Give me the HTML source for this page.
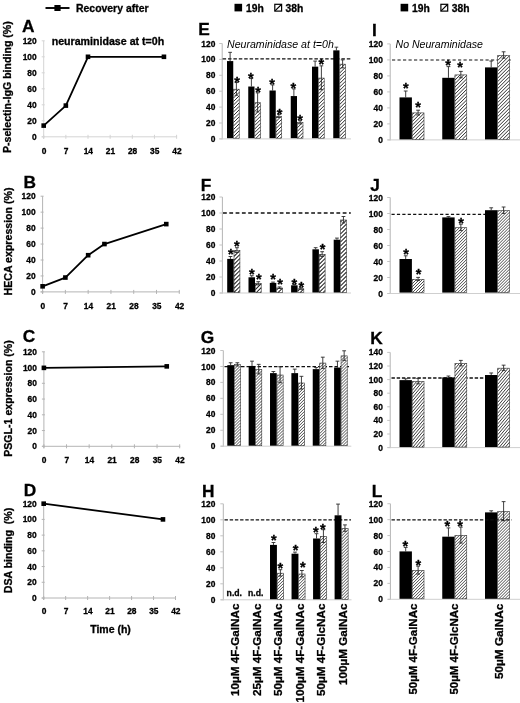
<!DOCTYPE html>
<html><head><meta charset="utf-8"><title>Figure</title>
<style>html,body{margin:0;padding:0;background:#fff;}body{width:520px;height:703px;overflow:hidden;}svg{display:block;filter:blur(0.35px);font-family:"Liberation Sans",sans-serif;}</style>
</head><body>
<svg width="520" height="703" viewBox="0 0 520 703">
<defs>
</defs>
<rect width="520" height="703" fill="#fff"/>
<line x1="45.50" y1="8.00" x2="69.50" y2="8.00" stroke="#000" stroke-width="1.9"/>
<rect x="54.40" y="5.00" width="6.20" height="6.00" fill="#000" stroke="none" stroke-width="0"/>
<text x="76.00" y="11.60" font-size="10.5" font-weight="bold" font-style="normal" text-anchor="start" fill="#000" stroke="#000" stroke-width="0.3" textLength="72.50" lengthAdjust="spacingAndGlyphs">Recovery after</text>
<rect x="234.50" y="3.80" width="7.60" height="7.60" fill="#000" stroke="none" stroke-width="0"/>
<text x="246.00" y="11.90" font-size="10.3" font-weight="bold" font-style="normal" text-anchor="start" fill="#000" stroke="#000" stroke-width="0.3">19h</text>
<rect x="274.80" y="4.30" width="6.80" height="6.80" fill="#fff" stroke="#000" stroke-width="1.2"/>
<line x1="275.00" y1="10.90" x2="281.40" y2="4.50" stroke="#000" stroke-width="1.1"/>
<text x="285.60" y="12.20" font-size="10.3" font-weight="bold" font-style="normal" text-anchor="start" fill="#000" stroke="#000" stroke-width="0.3">38h</text>
<rect x="400.60" y="3.80" width="7.60" height="7.60" fill="#000" stroke="none" stroke-width="0"/>
<text x="412.10" y="11.90" font-size="10.3" font-weight="bold" font-style="normal" text-anchor="start" fill="#000" stroke="#000" stroke-width="0.3">19h</text>
<rect x="440.90" y="4.30" width="6.80" height="6.80" fill="#fff" stroke="#000" stroke-width="1.2"/>
<line x1="441.10" y1="10.90" x2="447.50" y2="4.50" stroke="#000" stroke-width="1.1"/>
<text x="451.70" y="12.20" font-size="10.3" font-weight="bold" font-style="normal" text-anchor="start" fill="#000" stroke="#000" stroke-width="0.3">38h</text>
<line x1="43.70" y1="40.80" x2="43.70" y2="138.80" stroke="#d4d4d4" stroke-width="1"/>
<line x1="41.70" y1="136.80" x2="177.10" y2="136.80" stroke="#d4d4d4" stroke-width="1"/>
<line x1="43.70" y1="134.80" x2="43.70" y2="138.80" stroke="#d4d4d4" stroke-width="1"/>
<text x="44.00" y="153.85" font-size="8.4" font-weight="bold" font-style="normal" text-anchor="middle" fill="#000" stroke="#000" stroke-width="0.3">0</text>
<line x1="65.85" y1="134.80" x2="65.85" y2="138.80" stroke="#d4d4d4" stroke-width="1"/>
<text x="66.15" y="153.85" font-size="8.4" font-weight="bold" font-style="normal" text-anchor="middle" fill="#000" stroke="#000" stroke-width="0.3">7</text>
<line x1="88.00" y1="134.80" x2="88.00" y2="138.80" stroke="#d4d4d4" stroke-width="1"/>
<text x="88.30" y="153.85" font-size="8.4" font-weight="bold" font-style="normal" text-anchor="middle" fill="#000" stroke="#000" stroke-width="0.3">14</text>
<line x1="110.15" y1="134.80" x2="110.15" y2="138.80" stroke="#d4d4d4" stroke-width="1"/>
<text x="110.45" y="153.85" font-size="8.4" font-weight="bold" font-style="normal" text-anchor="middle" fill="#000" stroke="#000" stroke-width="0.3">21</text>
<line x1="132.30" y1="134.80" x2="132.30" y2="138.80" stroke="#d4d4d4" stroke-width="1"/>
<text x="132.60" y="153.85" font-size="8.4" font-weight="bold" font-style="normal" text-anchor="middle" fill="#000" stroke="#000" stroke-width="0.3">28</text>
<line x1="154.45" y1="134.80" x2="154.45" y2="138.80" stroke="#d4d4d4" stroke-width="1"/>
<text x="154.75" y="153.85" font-size="8.4" font-weight="bold" font-style="normal" text-anchor="middle" fill="#000" stroke="#000" stroke-width="0.3">35</text>
<line x1="176.60" y1="134.80" x2="176.60" y2="138.80" stroke="#d4d4d4" stroke-width="1"/>
<text x="176.90" y="153.85" font-size="8.4" font-weight="bold" font-style="normal" text-anchor="middle" fill="#000" stroke="#000" stroke-width="0.3">42</text>
<line x1="41.70" y1="136.80" x2="44.70" y2="136.80" stroke="#d4d4d4" stroke-width="1"/>
<line x1="41.70" y1="120.80" x2="44.70" y2="120.80" stroke="#d4d4d4" stroke-width="1"/>
<line x1="41.70" y1="104.80" x2="44.70" y2="104.80" stroke="#d4d4d4" stroke-width="1"/>
<line x1="41.70" y1="88.80" x2="44.70" y2="88.80" stroke="#d4d4d4" stroke-width="1"/>
<line x1="41.70" y1="72.80" x2="44.70" y2="72.80" stroke="#d4d4d4" stroke-width="1"/>
<line x1="41.70" y1="56.80" x2="44.70" y2="56.80" stroke="#d4d4d4" stroke-width="1"/>
<line x1="41.70" y1="40.80" x2="44.70" y2="40.80" stroke="#d4d4d4" stroke-width="1"/>
<text x="36.70" y="139.85" font-size="8.4" font-weight="bold" font-style="normal" text-anchor="end" fill="#000" stroke="#000" stroke-width="0.3">0</text>
<text x="36.70" y="123.85" font-size="8.4" font-weight="bold" font-style="normal" text-anchor="end" fill="#000" stroke="#000" stroke-width="0.3">20</text>
<text x="36.70" y="107.85" font-size="8.4" font-weight="bold" font-style="normal" text-anchor="end" fill="#000" stroke="#000" stroke-width="0.3">40</text>
<text x="36.70" y="91.85" font-size="8.4" font-weight="bold" font-style="normal" text-anchor="end" fill="#000" stroke="#000" stroke-width="0.3">60</text>
<text x="36.70" y="75.85" font-size="8.4" font-weight="bold" font-style="normal" text-anchor="end" fill="#000" stroke="#000" stroke-width="0.3">80</text>
<text x="36.70" y="59.85" font-size="8.4" font-weight="bold" font-style="normal" text-anchor="end" fill="#000" stroke="#000" stroke-width="0.3">100</text>
<text x="36.70" y="43.85" font-size="8.4" font-weight="bold" font-style="normal" text-anchor="end" fill="#000" stroke="#000" stroke-width="0.3">120</text>
<polyline points="43.70,125.60 65.85,105.60 88.00,56.80 163.94,56.80" fill="none" stroke="#000" stroke-width="1.8" stroke-linejoin="round"/>
<rect x="41.40" y="123.30" width="4.60" height="4.60" fill="#000" stroke="none" stroke-width="0"/>
<rect x="63.55" y="103.30" width="4.60" height="4.60" fill="#000" stroke="none" stroke-width="0"/>
<rect x="85.70" y="54.50" width="4.60" height="4.60" fill="#000" stroke="none" stroke-width="0"/>
<rect x="161.64" y="54.50" width="4.60" height="4.60" fill="#000" stroke="none" stroke-width="0"/>
<text x="22.00" y="32.20" font-size="17.3" font-weight="bold" font-style="normal" text-anchor="start" fill="#000" stroke="#000" stroke-width="0.3">A</text>
<text x="11.20" y="87.10" font-size="10.6" font-weight="bold" font-style="normal" text-anchor="middle" fill="#000" stroke="#000" stroke-width="0.3" transform="rotate(-90 11.20 87.10)">P-selectin-IgG binding (%)</text>
<text x="51.70" y="44.90" font-size="10.5" font-weight="bold" font-style="normal" text-anchor="start" fill="#000" stroke="#000" stroke-width="0.3" textLength="112.50" lengthAdjust="spacingAndGlyphs">neuraminidase at t=0h</text>
<line x1="42.60" y1="196.20" x2="42.60" y2="293.90" stroke="#b4b4b4" stroke-width="1"/>
<line x1="40.60" y1="291.90" x2="179.78" y2="291.90" stroke="#b4b4b4" stroke-width="1"/>
<line x1="42.60" y1="289.90" x2="42.60" y2="293.90" stroke="#b4b4b4" stroke-width="1"/>
<text x="42.90" y="308.95" font-size="8.4" font-weight="bold" font-style="normal" text-anchor="middle" fill="#000" stroke="#000" stroke-width="0.3">0</text>
<line x1="65.38" y1="289.90" x2="65.38" y2="293.90" stroke="#b4b4b4" stroke-width="1"/>
<text x="65.68" y="308.95" font-size="8.4" font-weight="bold" font-style="normal" text-anchor="middle" fill="#000" stroke="#000" stroke-width="0.3">7</text>
<line x1="88.16" y1="289.90" x2="88.16" y2="293.90" stroke="#b4b4b4" stroke-width="1"/>
<text x="88.46" y="308.95" font-size="8.4" font-weight="bold" font-style="normal" text-anchor="middle" fill="#000" stroke="#000" stroke-width="0.3">14</text>
<line x1="110.94" y1="289.90" x2="110.94" y2="293.90" stroke="#b4b4b4" stroke-width="1"/>
<text x="111.24" y="308.95" font-size="8.4" font-weight="bold" font-style="normal" text-anchor="middle" fill="#000" stroke="#000" stroke-width="0.3">21</text>
<line x1="133.72" y1="289.90" x2="133.72" y2="293.90" stroke="#b4b4b4" stroke-width="1"/>
<text x="134.02" y="308.95" font-size="8.4" font-weight="bold" font-style="normal" text-anchor="middle" fill="#000" stroke="#000" stroke-width="0.3">28</text>
<line x1="156.50" y1="289.90" x2="156.50" y2="293.90" stroke="#b4b4b4" stroke-width="1"/>
<text x="156.80" y="308.95" font-size="8.4" font-weight="bold" font-style="normal" text-anchor="middle" fill="#000" stroke="#000" stroke-width="0.3">35</text>
<line x1="179.28" y1="289.90" x2="179.28" y2="293.90" stroke="#b4b4b4" stroke-width="1"/>
<text x="179.58" y="308.95" font-size="8.4" font-weight="bold" font-style="normal" text-anchor="middle" fill="#000" stroke="#000" stroke-width="0.3">42</text>
<line x1="40.60" y1="291.90" x2="43.60" y2="291.90" stroke="#b4b4b4" stroke-width="1"/>
<line x1="40.60" y1="275.95" x2="43.60" y2="275.95" stroke="#b4b4b4" stroke-width="1"/>
<line x1="40.60" y1="260.00" x2="43.60" y2="260.00" stroke="#b4b4b4" stroke-width="1"/>
<line x1="40.60" y1="244.05" x2="43.60" y2="244.05" stroke="#b4b4b4" stroke-width="1"/>
<line x1="40.60" y1="228.10" x2="43.60" y2="228.10" stroke="#b4b4b4" stroke-width="1"/>
<line x1="40.60" y1="212.15" x2="43.60" y2="212.15" stroke="#b4b4b4" stroke-width="1"/>
<line x1="40.60" y1="196.20" x2="43.60" y2="196.20" stroke="#b4b4b4" stroke-width="1"/>
<text x="35.60" y="294.95" font-size="8.4" font-weight="bold" font-style="normal" text-anchor="end" fill="#000" stroke="#000" stroke-width="0.3">0</text>
<text x="35.60" y="279.00" font-size="8.4" font-weight="bold" font-style="normal" text-anchor="end" fill="#000" stroke="#000" stroke-width="0.3">20</text>
<text x="35.60" y="263.05" font-size="8.4" font-weight="bold" font-style="normal" text-anchor="end" fill="#000" stroke="#000" stroke-width="0.3">40</text>
<text x="35.60" y="247.10" font-size="8.4" font-weight="bold" font-style="normal" text-anchor="end" fill="#000" stroke="#000" stroke-width="0.3">60</text>
<text x="35.60" y="231.15" font-size="8.4" font-weight="bold" font-style="normal" text-anchor="end" fill="#000" stroke="#000" stroke-width="0.3">80</text>
<text x="35.60" y="215.20" font-size="8.4" font-weight="bold" font-style="normal" text-anchor="end" fill="#000" stroke="#000" stroke-width="0.3">100</text>
<text x="35.60" y="199.25" font-size="8.4" font-weight="bold" font-style="normal" text-anchor="end" fill="#000" stroke="#000" stroke-width="0.3">120</text>
<polyline points="42.60,286.32 65.38,277.54 88.16,255.21 104.43,244.05 166.26,224.11" fill="none" stroke="#000" stroke-width="1.8" stroke-linejoin="round"/>
<rect x="40.30" y="284.02" width="4.60" height="4.60" fill="#000" stroke="none" stroke-width="0"/>
<rect x="63.08" y="275.24" width="4.60" height="4.60" fill="#000" stroke="none" stroke-width="0"/>
<rect x="85.86" y="252.91" width="4.60" height="4.60" fill="#000" stroke="none" stroke-width="0"/>
<rect x="102.13" y="241.75" width="4.60" height="4.60" fill="#000" stroke="none" stroke-width="0"/>
<rect x="163.96" y="221.81" width="4.60" height="4.60" fill="#000" stroke="none" stroke-width="0"/>
<text x="23.40" y="187.60" font-size="17.3" font-weight="bold" font-style="normal" text-anchor="start" fill="#000" stroke="#000" stroke-width="0.3">B</text>
<text x="11.60" y="241.50" font-size="10.6" font-weight="bold" font-style="normal" text-anchor="middle" fill="#000" stroke="#000" stroke-width="0.3" transform="rotate(-90 11.60 241.50)">HECA expression (%)</text>
<line x1="43.90" y1="351.80" x2="43.90" y2="448.30" stroke="#b4b4b4" stroke-width="1"/>
<line x1="41.90" y1="446.30" x2="180.18" y2="446.30" stroke="#b4b4b4" stroke-width="1"/>
<line x1="43.90" y1="444.30" x2="43.90" y2="448.30" stroke="#b4b4b4" stroke-width="1"/>
<text x="44.20" y="462.85" font-size="8.4" font-weight="bold" font-style="normal" text-anchor="middle" fill="#000" stroke="#000" stroke-width="0.3">0</text>
<line x1="66.53" y1="444.30" x2="66.53" y2="448.30" stroke="#b4b4b4" stroke-width="1"/>
<text x="66.83" y="462.85" font-size="8.4" font-weight="bold" font-style="normal" text-anchor="middle" fill="#000" stroke="#000" stroke-width="0.3">7</text>
<line x1="89.16" y1="444.30" x2="89.16" y2="448.30" stroke="#b4b4b4" stroke-width="1"/>
<text x="89.46" y="462.85" font-size="8.4" font-weight="bold" font-style="normal" text-anchor="middle" fill="#000" stroke="#000" stroke-width="0.3">14</text>
<line x1="111.79" y1="444.30" x2="111.79" y2="448.30" stroke="#b4b4b4" stroke-width="1"/>
<text x="112.09" y="462.85" font-size="8.4" font-weight="bold" font-style="normal" text-anchor="middle" fill="#000" stroke="#000" stroke-width="0.3">21</text>
<line x1="134.42" y1="444.30" x2="134.42" y2="448.30" stroke="#b4b4b4" stroke-width="1"/>
<text x="134.72" y="462.85" font-size="8.4" font-weight="bold" font-style="normal" text-anchor="middle" fill="#000" stroke="#000" stroke-width="0.3">28</text>
<line x1="157.05" y1="444.30" x2="157.05" y2="448.30" stroke="#b4b4b4" stroke-width="1"/>
<text x="157.35" y="462.85" font-size="8.4" font-weight="bold" font-style="normal" text-anchor="middle" fill="#000" stroke="#000" stroke-width="0.3">35</text>
<line x1="179.68" y1="444.30" x2="179.68" y2="448.30" stroke="#b4b4b4" stroke-width="1"/>
<text x="179.98" y="462.85" font-size="8.4" font-weight="bold" font-style="normal" text-anchor="middle" fill="#000" stroke="#000" stroke-width="0.3">42</text>
<line x1="41.90" y1="446.30" x2="44.90" y2="446.30" stroke="#b4b4b4" stroke-width="1"/>
<line x1="41.90" y1="430.55" x2="44.90" y2="430.55" stroke="#b4b4b4" stroke-width="1"/>
<line x1="41.90" y1="414.80" x2="44.90" y2="414.80" stroke="#b4b4b4" stroke-width="1"/>
<line x1="41.90" y1="399.05" x2="44.90" y2="399.05" stroke="#b4b4b4" stroke-width="1"/>
<line x1="41.90" y1="383.30" x2="44.90" y2="383.30" stroke="#b4b4b4" stroke-width="1"/>
<line x1="41.90" y1="367.55" x2="44.90" y2="367.55" stroke="#b4b4b4" stroke-width="1"/>
<line x1="41.90" y1="351.80" x2="44.90" y2="351.80" stroke="#b4b4b4" stroke-width="1"/>
<text x="36.90" y="449.35" font-size="8.4" font-weight="bold" font-style="normal" text-anchor="end" fill="#000" stroke="#000" stroke-width="0.3">0</text>
<text x="36.90" y="433.60" font-size="8.4" font-weight="bold" font-style="normal" text-anchor="end" fill="#000" stroke="#000" stroke-width="0.3">20</text>
<text x="36.90" y="417.85" font-size="8.4" font-weight="bold" font-style="normal" text-anchor="end" fill="#000" stroke="#000" stroke-width="0.3">40</text>
<text x="36.90" y="402.10" font-size="8.4" font-weight="bold" font-style="normal" text-anchor="end" fill="#000" stroke="#000" stroke-width="0.3">60</text>
<text x="36.90" y="386.35" font-size="8.4" font-weight="bold" font-style="normal" text-anchor="end" fill="#000" stroke="#000" stroke-width="0.3">80</text>
<text x="36.90" y="370.60" font-size="8.4" font-weight="bold" font-style="normal" text-anchor="end" fill="#000" stroke="#000" stroke-width="0.3">100</text>
<text x="36.90" y="354.85" font-size="8.4" font-weight="bold" font-style="normal" text-anchor="end" fill="#000" stroke="#000" stroke-width="0.3">120</text>
<polyline points="43.90,367.87 166.75,366.37" fill="none" stroke="#000" stroke-width="1.8" stroke-linejoin="round"/>
<rect x="41.60" y="365.56" width="4.60" height="4.60" fill="#000" stroke="none" stroke-width="0"/>
<rect x="164.45" y="364.07" width="4.60" height="4.60" fill="#000" stroke="none" stroke-width="0"/>
<text x="22.80" y="342.30" font-size="17.3" font-weight="bold" font-style="normal" text-anchor="start" fill="#000" stroke="#000" stroke-width="0.3">C</text>
<text x="12.40" y="398.50" font-size="10.6" font-weight="bold" font-style="normal" text-anchor="middle" fill="#000" stroke="#000" stroke-width="0.3" transform="rotate(-90 12.40 398.50)">PSGL-1 expression (%)</text>
<line x1="43.70" y1="503.68" x2="43.70" y2="600.00" stroke="#b4b4b4" stroke-width="1"/>
<line x1="41.70" y1="598.00" x2="176.02" y2="598.00" stroke="#b4b4b4" stroke-width="1"/>
<line x1="43.70" y1="596.00" x2="43.70" y2="600.00" stroke="#b4b4b4" stroke-width="1"/>
<text x="44.00" y="614.45" font-size="8.4" font-weight="bold" font-style="normal" text-anchor="middle" fill="#000" stroke="#000" stroke-width="0.3">0</text>
<line x1="65.67" y1="596.00" x2="65.67" y2="600.00" stroke="#b4b4b4" stroke-width="1"/>
<text x="65.97" y="614.45" font-size="8.4" font-weight="bold" font-style="normal" text-anchor="middle" fill="#000" stroke="#000" stroke-width="0.3">7</text>
<line x1="87.64" y1="596.00" x2="87.64" y2="600.00" stroke="#b4b4b4" stroke-width="1"/>
<text x="87.94" y="614.45" font-size="8.4" font-weight="bold" font-style="normal" text-anchor="middle" fill="#000" stroke="#000" stroke-width="0.3">14</text>
<line x1="109.61" y1="596.00" x2="109.61" y2="600.00" stroke="#b4b4b4" stroke-width="1"/>
<text x="109.91" y="614.45" font-size="8.4" font-weight="bold" font-style="normal" text-anchor="middle" fill="#000" stroke="#000" stroke-width="0.3">21</text>
<line x1="131.58" y1="596.00" x2="131.58" y2="600.00" stroke="#b4b4b4" stroke-width="1"/>
<text x="131.88" y="614.45" font-size="8.4" font-weight="bold" font-style="normal" text-anchor="middle" fill="#000" stroke="#000" stroke-width="0.3">28</text>
<line x1="153.55" y1="596.00" x2="153.55" y2="600.00" stroke="#b4b4b4" stroke-width="1"/>
<text x="153.85" y="614.45" font-size="8.4" font-weight="bold" font-style="normal" text-anchor="middle" fill="#000" stroke="#000" stroke-width="0.3">35</text>
<line x1="175.52" y1="596.00" x2="175.52" y2="600.00" stroke="#b4b4b4" stroke-width="1"/>
<text x="175.82" y="614.45" font-size="8.4" font-weight="bold" font-style="normal" text-anchor="middle" fill="#000" stroke="#000" stroke-width="0.3">42</text>
<line x1="41.70" y1="598.00" x2="44.70" y2="598.00" stroke="#b4b4b4" stroke-width="1"/>
<line x1="41.70" y1="582.28" x2="44.70" y2="582.28" stroke="#b4b4b4" stroke-width="1"/>
<line x1="41.70" y1="566.56" x2="44.70" y2="566.56" stroke="#b4b4b4" stroke-width="1"/>
<line x1="41.70" y1="550.84" x2="44.70" y2="550.84" stroke="#b4b4b4" stroke-width="1"/>
<line x1="41.70" y1="535.12" x2="44.70" y2="535.12" stroke="#b4b4b4" stroke-width="1"/>
<line x1="41.70" y1="519.40" x2="44.70" y2="519.40" stroke="#b4b4b4" stroke-width="1"/>
<line x1="41.70" y1="503.68" x2="44.70" y2="503.68" stroke="#b4b4b4" stroke-width="1"/>
<text x="36.70" y="601.05" font-size="8.4" font-weight="bold" font-style="normal" text-anchor="end" fill="#000" stroke="#000" stroke-width="0.3">0</text>
<text x="36.70" y="585.33" font-size="8.4" font-weight="bold" font-style="normal" text-anchor="end" fill="#000" stroke="#000" stroke-width="0.3">20</text>
<text x="36.70" y="569.61" font-size="8.4" font-weight="bold" font-style="normal" text-anchor="end" fill="#000" stroke="#000" stroke-width="0.3">40</text>
<text x="36.70" y="553.89" font-size="8.4" font-weight="bold" font-style="normal" text-anchor="end" fill="#000" stroke="#000" stroke-width="0.3">60</text>
<text x="36.70" y="538.17" font-size="8.4" font-weight="bold" font-style="normal" text-anchor="end" fill="#000" stroke="#000" stroke-width="0.3">80</text>
<text x="36.70" y="522.45" font-size="8.4" font-weight="bold" font-style="normal" text-anchor="end" fill="#000" stroke="#000" stroke-width="0.3">100</text>
<text x="36.70" y="506.73" font-size="8.4" font-weight="bold" font-style="normal" text-anchor="end" fill="#000" stroke="#000" stroke-width="0.3">120</text>
<polyline points="43.70,503.68 162.97,519.40" fill="none" stroke="#000" stroke-width="1.8" stroke-linejoin="round"/>
<rect x="41.40" y="501.38" width="4.60" height="4.60" fill="#000" stroke="none" stroke-width="0"/>
<rect x="160.67" y="517.10" width="4.60" height="4.60" fill="#000" stroke="none" stroke-width="0"/>
<text x="23.70" y="496.30" font-size="17.3" font-weight="bold" font-style="normal" text-anchor="start" fill="#000" stroke="#000" stroke-width="0.3">D</text>
<text x="12.00" y="550.50" font-size="10.6" font-weight="bold" font-style="normal" text-anchor="middle" fill="#000" stroke="#000" stroke-width="0.3" transform="rotate(-90 12.00 550.50)">DSA binding&#160;&#160;(%)</text>
<text x="110.50" y="632.60" font-size="10.5" font-weight="bold" font-style="normal" text-anchor="middle" fill="#000" stroke="#000" stroke-width="0.3">Time (h)</text>
<line x1="222.20" y1="43.50" x2="222.20" y2="139.40" stroke="#b4b4b4" stroke-width="1"/>
<line x1="219.70" y1="138.90" x2="351.00" y2="138.90" stroke="#cfcfcf" stroke-width="1"/>
<line x1="219.20" y1="138.90" x2="222.20" y2="138.90" stroke="#c4c4c4" stroke-width="1"/>
<line x1="219.20" y1="123.00" x2="222.20" y2="123.00" stroke="#c4c4c4" stroke-width="1"/>
<line x1="219.20" y1="107.10" x2="222.20" y2="107.10" stroke="#c4c4c4" stroke-width="1"/>
<line x1="219.20" y1="91.20" x2="222.20" y2="91.20" stroke="#c4c4c4" stroke-width="1"/>
<line x1="219.20" y1="75.30" x2="222.20" y2="75.30" stroke="#c4c4c4" stroke-width="1"/>
<line x1="219.20" y1="59.40" x2="222.20" y2="59.40" stroke="#c4c4c4" stroke-width="1"/>
<line x1="219.20" y1="43.50" x2="222.20" y2="43.50" stroke="#c4c4c4" stroke-width="1"/>
<text x="215.30" y="141.95" font-size="8.4" font-weight="bold" font-style="normal" text-anchor="end" fill="#000" stroke="#000" stroke-width="0.3">0</text>
<text x="215.30" y="126.05" font-size="8.4" font-weight="bold" font-style="normal" text-anchor="end" fill="#000" stroke="#000" stroke-width="0.3">20</text>
<text x="215.30" y="110.15" font-size="8.4" font-weight="bold" font-style="normal" text-anchor="end" fill="#000" stroke="#000" stroke-width="0.3">40</text>
<text x="215.30" y="94.25" font-size="8.4" font-weight="bold" font-style="normal" text-anchor="end" fill="#000" stroke="#000" stroke-width="0.3">60</text>
<text x="215.30" y="78.35" font-size="8.4" font-weight="bold" font-style="normal" text-anchor="end" fill="#000" stroke="#000" stroke-width="0.3">80</text>
<text x="215.30" y="62.45" font-size="8.4" font-weight="bold" font-style="normal" text-anchor="end" fill="#000" stroke="#000" stroke-width="0.3">100</text>
<text x="215.30" y="46.55" font-size="8.4" font-weight="bold" font-style="normal" text-anchor="end" fill="#000" stroke="#000" stroke-width="0.3">120</text>
<line x1="222.60" y1="58.90" x2="350.50" y2="58.90" stroke="#111" stroke-width="1.3" stroke-dasharray="3.5 1.9"/>
<line x1="230.12" y1="52.34" x2="230.12" y2="61.08" stroke="#2a2a2a" stroke-width="0.9"/>
<line x1="228.29" y1="52.34" x2="231.96" y2="52.34" stroke="#2a2a2a" stroke-width="0.9"/>
<rect x="227.00" y="61.08" width="6.25" height="77.11" fill="#000" stroke="none" stroke-width="0"/>
<rect x="233.55" y="89.21" width="5.65" height="48.99" fill="#fff"/>
<path d="M233.55 90.96L235.30 89.21M233.55 94.46L238.80 89.21M233.55 97.96L239.20 92.31M233.55 101.46L239.20 95.81M233.55 104.96L239.20 99.31M233.55 108.46L239.20 102.81M233.55 111.96L239.20 106.31M233.55 115.46L239.20 109.81M233.55 118.96L239.20 113.31M233.55 122.46L239.20 116.81M233.55 125.96L239.20 120.31M233.55 129.46L239.20 123.81M233.55 132.96L239.20 127.31M233.55 136.46L239.20 130.81M235.31 138.20L239.20 134.31M238.81 138.20L239.20 137.81" stroke="#1a1a1a" stroke-width="0.92" fill="none"/>
<rect x="233.55" y="89.21" width="5.65" height="48.99" fill="none" stroke="#333" stroke-width="0.6"/>
<line x1="236.38" y1="82.55" x2="236.38" y2="95.27" stroke="#2a2a2a" stroke-width="0.9"/>
<line x1="234.54" y1="82.55" x2="238.21" y2="82.55" stroke="#2a2a2a" stroke-width="0.9"/>
<line x1="234.54" y1="95.27" x2="238.21" y2="95.27" stroke="#2a2a2a" stroke-width="0.9"/>
<line x1="251.38" y1="78.57" x2="251.38" y2="86.52" stroke="#2a2a2a" stroke-width="0.9"/>
<line x1="249.54" y1="78.57" x2="253.21" y2="78.57" stroke="#2a2a2a" stroke-width="0.9"/>
<rect x="248.25" y="86.52" width="6.25" height="51.68" fill="#000" stroke="none" stroke-width="0"/>
<rect x="254.80" y="102.72" width="5.65" height="35.48" fill="#fff"/>
<path d="M254.80 104.47L256.55 102.72M254.80 107.97L260.05 102.72M254.80 111.47L260.45 105.82M254.80 114.97L260.45 109.32M254.80 118.47L260.45 112.82M254.80 121.97L260.45 116.32M254.80 125.47L260.45 119.82M254.80 128.97L260.45 123.32M254.80 132.47L260.45 126.82M254.80 135.97L260.45 130.32M256.07 138.20L260.45 133.82M259.57 138.20L260.45 137.32" stroke="#1a1a1a" stroke-width="0.92" fill="none"/>
<rect x="254.80" y="102.72" width="5.65" height="35.48" fill="none" stroke="#333" stroke-width="0.6"/>
<line x1="257.62" y1="92.88" x2="257.62" y2="111.96" stroke="#2a2a2a" stroke-width="0.9"/>
<line x1="255.79" y1="92.88" x2="259.46" y2="92.88" stroke="#2a2a2a" stroke-width="0.9"/>
<line x1="255.79" y1="111.96" x2="259.46" y2="111.96" stroke="#2a2a2a" stroke-width="0.9"/>
<line x1="272.62" y1="84.93" x2="272.62" y2="90.50" stroke="#2a2a2a" stroke-width="0.9"/>
<line x1="270.79" y1="84.93" x2="274.46" y2="84.93" stroke="#2a2a2a" stroke-width="0.9"/>
<rect x="269.50" y="90.50" width="6.25" height="47.70" fill="#000" stroke="none" stroke-width="0"/>
<rect x="276.05" y="116.24" width="5.65" height="21.96" fill="#fff"/>
<path d="M276.05 117.99L277.80 116.24M276.05 121.49L281.30 116.24M276.05 124.99L281.70 119.34M276.05 128.49L281.70 122.84M276.05 131.99L281.70 126.34M276.05 135.49L281.70 129.84M276.84 138.20L281.70 133.34M280.34 138.20L281.70 136.84" stroke="#1a1a1a" stroke-width="0.92" fill="none"/>
<rect x="276.05" y="116.24" width="5.65" height="21.96" fill="none" stroke="#333" stroke-width="0.6"/>
<line x1="278.88" y1="114.35" x2="278.88" y2="117.53" stroke="#2a2a2a" stroke-width="0.9"/>
<line x1="277.04" y1="114.35" x2="280.71" y2="114.35" stroke="#2a2a2a" stroke-width="0.9"/>
<line x1="277.04" y1="117.53" x2="280.71" y2="117.53" stroke="#2a2a2a" stroke-width="0.9"/>
<line x1="293.88" y1="88.91" x2="293.88" y2="96.06" stroke="#2a2a2a" stroke-width="0.9"/>
<line x1="292.04" y1="88.91" x2="295.71" y2="88.91" stroke="#2a2a2a" stroke-width="0.9"/>
<rect x="290.75" y="96.06" width="6.25" height="42.13" fill="#000" stroke="none" stroke-width="0"/>
<rect x="297.30" y="122.60" width="5.65" height="15.60" fill="#fff"/>
<path d="M297.30 124.35L299.05 122.60M297.30 127.85L302.55 122.60M297.30 131.35L302.95 125.70M297.30 134.85L302.95 129.20M297.45 138.20L302.95 132.70M300.95 138.20L302.95 136.20" stroke="#1a1a1a" stroke-width="0.92" fill="none"/>
<rect x="297.30" y="122.60" width="5.65" height="15.60" fill="none" stroke="#333" stroke-width="0.6"/>
<line x1="300.12" y1="120.71" x2="300.12" y2="123.89" stroke="#2a2a2a" stroke-width="0.9"/>
<line x1="298.29" y1="120.71" x2="301.96" y2="120.71" stroke="#2a2a2a" stroke-width="0.9"/>
<line x1="298.29" y1="123.89" x2="301.96" y2="123.89" stroke="#2a2a2a" stroke-width="0.9"/>
<line x1="315.12" y1="61.08" x2="315.12" y2="66.65" stroke="#2a2a2a" stroke-width="0.9"/>
<line x1="313.29" y1="61.08" x2="316.96" y2="61.08" stroke="#2a2a2a" stroke-width="0.9"/>
<rect x="312.00" y="66.65" width="6.25" height="71.55" fill="#000" stroke="none" stroke-width="0"/>
<rect x="318.55" y="78.08" width="5.65" height="60.12" fill="#fff"/>
<path d="M318.55 79.83L320.30 78.08M318.55 83.33L323.80 78.08M318.55 86.83L324.20 81.18M318.55 90.33L324.20 84.68M318.55 93.83L324.20 88.18M318.55 97.33L324.20 91.68M318.55 100.83L324.20 95.18M318.55 104.33L324.20 98.68M318.55 107.83L324.20 102.18M318.55 111.33L324.20 105.68M318.55 114.83L324.20 109.18M318.55 118.33L324.20 112.68M318.55 121.83L324.20 116.18M318.55 125.33L324.20 119.68M318.55 128.83L324.20 123.18M318.55 132.33L324.20 126.68M318.55 135.83L324.20 130.18M319.68 138.20L324.20 133.68M323.18 138.20L324.20 137.18" stroke="#1a1a1a" stroke-width="0.92" fill="none"/>
<rect x="318.55" y="78.08" width="5.65" height="60.12" fill="none" stroke="#333" stroke-width="0.6"/>
<line x1="321.38" y1="65.85" x2="321.38" y2="89.70" stroke="#2a2a2a" stroke-width="0.9"/>
<line x1="319.54" y1="65.85" x2="323.21" y2="65.85" stroke="#2a2a2a" stroke-width="0.9"/>
<line x1="319.54" y1="89.70" x2="323.21" y2="89.70" stroke="#2a2a2a" stroke-width="0.9"/>
<line x1="336.38" y1="47.17" x2="336.38" y2="50.35" stroke="#2a2a2a" stroke-width="0.9"/>
<line x1="334.54" y1="47.17" x2="338.21" y2="47.17" stroke="#2a2a2a" stroke-width="0.9"/>
<rect x="333.25" y="50.35" width="6.25" height="87.85" fill="#000" stroke="none" stroke-width="0"/>
<rect x="339.80" y="64.17" width="5.65" height="74.03" fill="#fff"/>
<path d="M339.80 65.92L341.55 64.17M339.80 69.42L345.05 64.17M339.80 72.92L345.45 67.27M339.80 76.42L345.45 70.77M339.80 79.92L345.45 74.27M339.80 83.42L345.45 77.77M339.80 86.92L345.45 81.27M339.80 90.42L345.45 84.77M339.80 93.92L345.45 88.27M339.80 97.42L345.45 91.77M339.80 100.92L345.45 95.27M339.80 104.42L345.45 98.77M339.80 107.92L345.45 102.27M339.80 111.42L345.45 105.77M339.80 114.92L345.45 109.27M339.80 118.42L345.45 112.77M339.80 121.92L345.45 116.27M339.80 125.42L345.45 119.77M339.80 128.92L345.45 123.27M339.80 132.42L345.45 126.77M339.80 135.92L345.45 130.27M341.02 138.20L345.45 133.77M344.52 138.20L345.45 137.27" stroke="#1a1a1a" stroke-width="0.92" fill="none"/>
<rect x="339.80" y="64.17" width="5.65" height="74.03" fill="none" stroke="#333" stroke-width="0.6"/>
<line x1="342.62" y1="59.89" x2="342.62" y2="67.84" stroke="#2a2a2a" stroke-width="0.9"/>
<line x1="340.79" y1="59.89" x2="344.46" y2="59.89" stroke="#2a2a2a" stroke-width="0.9"/>
<line x1="340.79" y1="67.84" x2="344.46" y2="67.84" stroke="#2a2a2a" stroke-width="0.9"/>
<text x="237.00" y="86.90" font-size="14.5" font-weight="bold" font-style="normal" text-anchor="middle" fill="#000" stroke="#000" stroke-width="0.3">*</text>
<text x="250.75" y="82.90" font-size="14.5" font-weight="bold" font-style="normal" text-anchor="middle" fill="#000" stroke="#000" stroke-width="0.3">*</text>
<text x="258.00" y="96.90" font-size="14.5" font-weight="bold" font-style="normal" text-anchor="middle" fill="#000" stroke="#000" stroke-width="0.3">*</text>
<text x="272.00" y="89.15" font-size="14.5" font-weight="bold" font-style="normal" text-anchor="middle" fill="#000" stroke="#000" stroke-width="0.3">*</text>
<text x="279.50" y="118.65" font-size="14.5" font-weight="bold" font-style="normal" text-anchor="middle" fill="#000" stroke="#000" stroke-width="0.3">*</text>
<text x="293.25" y="92.90" font-size="14.5" font-weight="bold" font-style="normal" text-anchor="middle" fill="#000" stroke="#000" stroke-width="0.3">*</text>
<text x="300.00" y="124.90" font-size="14.5" font-weight="bold" font-style="normal" text-anchor="middle" fill="#000" stroke="#000" stroke-width="0.3">*</text>
<text x="321.25" y="69.15" font-size="14.5" font-weight="bold" font-style="normal" text-anchor="middle" fill="#000" stroke="#000" stroke-width="0.3">*</text>
<text x="198.30" y="34.50" font-size="17.3" font-weight="bold" font-style="normal" text-anchor="start" fill="#000" stroke="#000" stroke-width="0.3">E</text>
<text x="227.00" y="47.60" font-size="10.5" font-weight="normal" font-style="italic" text-anchor="start" fill="#000" textLength="106.80" lengthAdjust="spacingAndGlyphs">Neuraminidase at t=0h</text>
<line x1="222.40" y1="197.00" x2="222.40" y2="293.50" stroke="#b4b4b4" stroke-width="1"/>
<line x1="219.90" y1="293.00" x2="351.00" y2="293.00" stroke="#cfcfcf" stroke-width="1"/>
<line x1="219.40" y1="293.00" x2="222.40" y2="293.00" stroke="#c4c4c4" stroke-width="1"/>
<line x1="219.40" y1="277.00" x2="222.40" y2="277.00" stroke="#c4c4c4" stroke-width="1"/>
<line x1="219.40" y1="261.00" x2="222.40" y2="261.00" stroke="#c4c4c4" stroke-width="1"/>
<line x1="219.40" y1="245.00" x2="222.40" y2="245.00" stroke="#c4c4c4" stroke-width="1"/>
<line x1="219.40" y1="229.00" x2="222.40" y2="229.00" stroke="#c4c4c4" stroke-width="1"/>
<line x1="219.40" y1="213.00" x2="222.40" y2="213.00" stroke="#c4c4c4" stroke-width="1"/>
<line x1="219.40" y1="197.00" x2="222.40" y2="197.00" stroke="#c4c4c4" stroke-width="1"/>
<text x="215.30" y="296.05" font-size="8.4" font-weight="bold" font-style="normal" text-anchor="end" fill="#000" stroke="#000" stroke-width="0.3">0</text>
<text x="215.30" y="280.05" font-size="8.4" font-weight="bold" font-style="normal" text-anchor="end" fill="#000" stroke="#000" stroke-width="0.3">20</text>
<text x="215.30" y="264.05" font-size="8.4" font-weight="bold" font-style="normal" text-anchor="end" fill="#000" stroke="#000" stroke-width="0.3">40</text>
<text x="215.30" y="248.05" font-size="8.4" font-weight="bold" font-style="normal" text-anchor="end" fill="#000" stroke="#000" stroke-width="0.3">60</text>
<text x="215.30" y="232.05" font-size="8.4" font-weight="bold" font-style="normal" text-anchor="end" fill="#000" stroke="#000" stroke-width="0.3">80</text>
<text x="215.30" y="216.05" font-size="8.4" font-weight="bold" font-style="normal" text-anchor="end" fill="#000" stroke="#000" stroke-width="0.3">100</text>
<text x="215.30" y="200.05" font-size="8.4" font-weight="bold" font-style="normal" text-anchor="end" fill="#000" stroke="#000" stroke-width="0.3">120</text>
<line x1="223.00" y1="213.00" x2="350.80" y2="213.00" stroke="#111" stroke-width="1.5" stroke-dasharray="3.8 2.5"/>
<line x1="230.45" y1="256.50" x2="230.45" y2="258.90" stroke="#2a2a2a" stroke-width="0.9"/>
<line x1="228.55" y1="256.50" x2="232.35" y2="256.50" stroke="#2a2a2a" stroke-width="0.9"/>
<rect x="227.20" y="258.90" width="6.50" height="33.60" fill="#000" stroke="none" stroke-width="0"/>
<rect x="234.00" y="250.40" width="5.90" height="42.10" fill="#fff"/>
<path d="M234.00 252.40L236.00 250.40M234.00 256.40L239.90 250.50M234.00 260.40L239.90 254.50M234.00 264.40L239.90 258.50M234.00 268.40L239.90 262.50M234.00 272.40L239.90 266.50M234.00 276.40L239.90 270.50M234.00 280.40L239.90 274.50M234.00 284.40L239.90 278.50M234.00 288.40L239.90 282.50M234.00 292.40L239.90 286.50M237.90 292.50L239.90 290.50" stroke="#1a1a1a" stroke-width="1.05" fill="none"/>
<rect x="234.00" y="250.40" width="5.90" height="42.10" fill="none" stroke="#333" stroke-width="0.6"/>
<line x1="236.95" y1="247.70" x2="236.95" y2="252.50" stroke="#2a2a2a" stroke-width="0.9"/>
<line x1="235.05" y1="247.70" x2="238.85" y2="247.70" stroke="#2a2a2a" stroke-width="0.9"/>
<line x1="235.05" y1="252.50" x2="238.85" y2="252.50" stroke="#2a2a2a" stroke-width="0.9"/>
<line x1="251.75" y1="275.70" x2="251.75" y2="277.30" stroke="#2a2a2a" stroke-width="0.9"/>
<line x1="249.85" y1="275.70" x2="253.65" y2="275.70" stroke="#2a2a2a" stroke-width="0.9"/>
<rect x="248.50" y="277.30" width="6.50" height="15.20" fill="#000" stroke="none" stroke-width="0"/>
<rect x="255.30" y="283.60" width="5.90" height="8.90" fill="#fff"/>
<path d="M255.30 285.60L257.30 283.60M255.30 289.60L261.20 283.70M256.40 292.50L261.20 287.70M260.40 292.50L261.20 291.70" stroke="#1a1a1a" stroke-width="1.05" fill="none"/>
<rect x="255.30" y="283.60" width="5.90" height="8.90" fill="none" stroke="#333" stroke-width="0.6"/>
<line x1="258.25" y1="281.70" x2="258.25" y2="284.90" stroke="#2a2a2a" stroke-width="0.9"/>
<line x1="256.35" y1="281.70" x2="260.15" y2="281.70" stroke="#2a2a2a" stroke-width="0.9"/>
<line x1="256.35" y1="284.90" x2="260.15" y2="284.90" stroke="#2a2a2a" stroke-width="0.9"/>
<line x1="273.05" y1="282.10" x2="273.05" y2="282.90" stroke="#2a2a2a" stroke-width="0.9"/>
<line x1="271.15" y1="282.10" x2="274.95" y2="282.10" stroke="#2a2a2a" stroke-width="0.9"/>
<rect x="269.80" y="282.90" width="6.50" height="9.60" fill="#000" stroke="none" stroke-width="0"/>
<rect x="276.60" y="288.00" width="5.90" height="4.50" fill="#fff"/>
<path d="M276.60 290.00L278.60 288.00M278.10 292.50L282.50 288.10M282.10 292.50L282.50 292.10" stroke="#1a1a1a" stroke-width="1.05" fill="none"/>
<rect x="276.60" y="288.00" width="5.90" height="4.50" fill="none" stroke="#333" stroke-width="0.6"/>
<line x1="279.55" y1="286.90" x2="279.55" y2="288.50" stroke="#2a2a2a" stroke-width="0.9"/>
<line x1="277.65" y1="286.90" x2="281.45" y2="286.90" stroke="#2a2a2a" stroke-width="0.9"/>
<line x1="277.65" y1="288.50" x2="281.45" y2="288.50" stroke="#2a2a2a" stroke-width="0.9"/>
<line x1="294.35" y1="284.50" x2="294.35" y2="285.30" stroke="#2a2a2a" stroke-width="0.9"/>
<line x1="292.45" y1="284.50" x2="296.25" y2="284.50" stroke="#2a2a2a" stroke-width="0.9"/>
<rect x="291.10" y="285.30" width="6.50" height="7.20" fill="#000" stroke="none" stroke-width="0"/>
<rect x="297.90" y="288.80" width="5.90" height="3.70" fill="#fff"/>
<path d="M297.90 290.80L299.90 288.80M300.20 292.50L303.80 288.90" stroke="#1a1a1a" stroke-width="1.05" fill="none"/>
<rect x="297.90" y="288.80" width="5.90" height="3.70" fill="none" stroke="#333" stroke-width="0.6"/>
<line x1="300.85" y1="287.70" x2="300.85" y2="289.30" stroke="#2a2a2a" stroke-width="0.9"/>
<line x1="298.95" y1="287.70" x2="302.75" y2="287.70" stroke="#2a2a2a" stroke-width="0.9"/>
<line x1="298.95" y1="289.30" x2="302.75" y2="289.30" stroke="#2a2a2a" stroke-width="0.9"/>
<line x1="315.65" y1="247.70" x2="315.65" y2="249.30" stroke="#2a2a2a" stroke-width="0.9"/>
<line x1="313.75" y1="247.70" x2="317.55" y2="247.70" stroke="#2a2a2a" stroke-width="0.9"/>
<rect x="312.40" y="249.30" width="6.50" height="43.20" fill="#000" stroke="none" stroke-width="0"/>
<rect x="319.20" y="254.40" width="5.90" height="38.10" fill="#fff"/>
<path d="M319.20 256.40L321.20 254.40M319.20 260.40L325.10 254.50M319.20 264.40L325.10 258.50M319.20 268.40L325.10 262.50M319.20 272.40L325.10 266.50M319.20 276.40L325.10 270.50M319.20 280.40L325.10 274.50M319.20 284.40L325.10 278.50M319.20 288.40L325.10 282.50M319.20 292.40L325.10 286.50M323.10 292.50L325.10 290.50" stroke="#1a1a1a" stroke-width="1.05" fill="none"/>
<rect x="319.20" y="254.40" width="5.90" height="38.10" fill="none" stroke="#333" stroke-width="0.6"/>
<line x1="322.15" y1="251.70" x2="322.15" y2="256.50" stroke="#2a2a2a" stroke-width="0.9"/>
<line x1="320.25" y1="251.70" x2="324.05" y2="251.70" stroke="#2a2a2a" stroke-width="0.9"/>
<line x1="320.25" y1="256.50" x2="324.05" y2="256.50" stroke="#2a2a2a" stroke-width="0.9"/>
<line x1="336.95" y1="238.10" x2="336.95" y2="239.70" stroke="#2a2a2a" stroke-width="0.9"/>
<line x1="335.05" y1="238.10" x2="338.85" y2="238.10" stroke="#2a2a2a" stroke-width="0.9"/>
<rect x="333.70" y="239.70" width="6.50" height="52.80" fill="#000" stroke="none" stroke-width="0"/>
<rect x="340.50" y="220.00" width="5.90" height="72.50" fill="#fff"/>
<path d="M340.50 222.00L342.50 220.00M340.50 226.00L346.40 220.10M340.50 230.00L346.40 224.10M340.50 234.00L346.40 228.10M340.50 238.00L346.40 232.10M340.50 242.00L346.40 236.10M340.50 246.00L346.40 240.10M340.50 250.00L346.40 244.10M340.50 254.00L346.40 248.10M340.50 258.00L346.40 252.10M340.50 262.00L346.40 256.10M340.50 266.00L346.40 260.10M340.50 270.00L346.40 264.10M340.50 274.00L346.40 268.10M340.50 278.00L346.40 272.10M340.50 282.00L346.40 276.10M340.50 286.00L346.40 280.10M340.50 290.00L346.40 284.10M342.00 292.50L346.40 288.10M346.00 292.50L346.40 292.10" stroke="#1a1a1a" stroke-width="1.05" fill="none"/>
<rect x="340.50" y="220.00" width="5.90" height="72.50" fill="none" stroke="#333" stroke-width="0.6"/>
<line x1="343.45" y1="216.50" x2="343.45" y2="222.90" stroke="#2a2a2a" stroke-width="0.9"/>
<line x1="341.55" y1="216.50" x2="345.35" y2="216.50" stroke="#2a2a2a" stroke-width="0.9"/>
<line x1="341.55" y1="222.90" x2="345.35" y2="222.90" stroke="#2a2a2a" stroke-width="0.9"/>
<text x="230.80" y="258.90" font-size="14.5" font-weight="bold" font-style="normal" text-anchor="middle" fill="#000" stroke="#000" stroke-width="0.3">*</text>
<text x="236.90" y="251.10" font-size="14.5" font-weight="bold" font-style="normal" text-anchor="middle" fill="#000" stroke="#000" stroke-width="0.3">*</text>
<text x="251.90" y="278.80" font-size="14.5" font-weight="bold" font-style="normal" text-anchor="middle" fill="#000" stroke="#000" stroke-width="0.3">*</text>
<text x="258.80" y="284.20" font-size="14.5" font-weight="bold" font-style="normal" text-anchor="middle" fill="#000" stroke="#000" stroke-width="0.3">*</text>
<text x="273.00" y="284.15" font-size="14.5" font-weight="bold" font-style="normal" text-anchor="middle" fill="#000" stroke="#000" stroke-width="0.3">*</text>
<text x="280.00" y="289.40" font-size="14.5" font-weight="bold" font-style="normal" text-anchor="middle" fill="#000" stroke="#000" stroke-width="0.3">*</text>
<text x="294.25" y="288.65" font-size="14.5" font-weight="bold" font-style="normal" text-anchor="middle" fill="#000" stroke="#000" stroke-width="0.3">*</text>
<text x="301.25" y="291.90" font-size="14.5" font-weight="bold" font-style="normal" text-anchor="middle" fill="#000" stroke="#000" stroke-width="0.3">*</text>
<text x="322.50" y="254.20" font-size="14.5" font-weight="bold" font-style="normal" text-anchor="middle" fill="#000" stroke="#000" stroke-width="0.3">*</text>
<text x="200.70" y="190.70" font-size="17.3" font-weight="bold" font-style="normal" text-anchor="start" fill="#000" stroke="#000" stroke-width="0.3">F</text>
<line x1="223.30" y1="350.50" x2="223.30" y2="446.70" stroke="#b4b4b4" stroke-width="1"/>
<line x1="220.80" y1="446.20" x2="351.30" y2="446.20" stroke="#cfcfcf" stroke-width="1"/>
<line x1="220.30" y1="446.20" x2="223.30" y2="446.20" stroke="#c4c4c4" stroke-width="1"/>
<line x1="220.30" y1="430.25" x2="223.30" y2="430.25" stroke="#c4c4c4" stroke-width="1"/>
<line x1="220.30" y1="414.30" x2="223.30" y2="414.30" stroke="#c4c4c4" stroke-width="1"/>
<line x1="220.30" y1="398.35" x2="223.30" y2="398.35" stroke="#c4c4c4" stroke-width="1"/>
<line x1="220.30" y1="382.40" x2="223.30" y2="382.40" stroke="#c4c4c4" stroke-width="1"/>
<line x1="220.30" y1="366.45" x2="223.30" y2="366.45" stroke="#c4c4c4" stroke-width="1"/>
<line x1="220.30" y1="350.50" x2="223.30" y2="350.50" stroke="#c4c4c4" stroke-width="1"/>
<text x="215.30" y="449.25" font-size="8.4" font-weight="bold" font-style="normal" text-anchor="end" fill="#000" stroke="#000" stroke-width="0.3">0</text>
<text x="215.30" y="433.30" font-size="8.4" font-weight="bold" font-style="normal" text-anchor="end" fill="#000" stroke="#000" stroke-width="0.3">20</text>
<text x="215.30" y="417.35" font-size="8.4" font-weight="bold" font-style="normal" text-anchor="end" fill="#000" stroke="#000" stroke-width="0.3">40</text>
<text x="215.30" y="401.40" font-size="8.4" font-weight="bold" font-style="normal" text-anchor="end" fill="#000" stroke="#000" stroke-width="0.3">60</text>
<text x="215.30" y="385.45" font-size="8.4" font-weight="bold" font-style="normal" text-anchor="end" fill="#000" stroke="#000" stroke-width="0.3">80</text>
<text x="215.30" y="369.50" font-size="8.4" font-weight="bold" font-style="normal" text-anchor="end" fill="#000" stroke="#000" stroke-width="0.3">100</text>
<text x="215.30" y="353.55" font-size="8.4" font-weight="bold" font-style="normal" text-anchor="end" fill="#000" stroke="#000" stroke-width="0.3">120</text>
<line x1="224.50" y1="366.70" x2="350.80" y2="366.70" stroke="#111" stroke-width="1.3" stroke-dasharray="3.5 2.0"/>
<line x1="230.65" y1="362.76" x2="230.65" y2="365.15" stroke="#2a2a2a" stroke-width="0.9"/>
<line x1="228.75" y1="362.76" x2="232.55" y2="362.76" stroke="#2a2a2a" stroke-width="0.9"/>
<rect x="227.30" y="365.15" width="6.70" height="80.55" fill="#000" stroke="none" stroke-width="0"/>
<rect x="234.30" y="364.66" width="6.10" height="81.04" fill="#fff"/>
<path d="M234.30 366.16L235.80 364.66M234.30 369.16L238.80 364.66M234.30 372.16L240.40 366.06M234.30 375.16L240.40 369.06M234.30 378.16L240.40 372.06M234.30 381.16L240.40 375.06M234.30 384.16L240.40 378.06M234.30 387.16L240.40 381.06M234.30 390.16L240.40 384.06M234.30 393.16L240.40 387.06M234.30 396.16L240.40 390.06M234.30 399.16L240.40 393.06M234.30 402.16L240.40 396.06M234.30 405.16L240.40 399.06M234.30 408.16L240.40 402.06M234.30 411.16L240.40 405.06M234.30 414.16L240.40 408.06M234.30 417.16L240.40 411.06M234.30 420.16L240.40 414.06M234.30 423.16L240.40 417.06M234.30 426.16L240.40 420.06M234.30 429.16L240.40 423.06M234.30 432.16L240.40 426.06M234.30 435.16L240.40 429.06M234.30 438.16L240.40 432.06M234.30 441.16L240.40 435.06M234.30 444.16L240.40 438.06M235.75 445.70L240.40 441.06M238.75 445.70L240.40 444.06" stroke="#1a1a1a" stroke-width="0.78" fill="none"/>
<rect x="234.30" y="364.66" width="6.10" height="81.04" fill="none" stroke="#333" stroke-width="0.6"/>
<line x1="237.35" y1="362.76" x2="237.35" y2="365.95" stroke="#2a2a2a" stroke-width="0.9"/>
<line x1="235.45" y1="362.76" x2="239.25" y2="362.76" stroke="#2a2a2a" stroke-width="0.9"/>
<line x1="235.45" y1="365.95" x2="239.25" y2="365.95" stroke="#2a2a2a" stroke-width="0.9"/>
<line x1="252.01" y1="361.16" x2="252.01" y2="365.95" stroke="#2a2a2a" stroke-width="0.9"/>
<line x1="250.11" y1="361.16" x2="253.91" y2="361.16" stroke="#2a2a2a" stroke-width="0.9"/>
<rect x="248.66" y="365.95" width="6.70" height="79.75" fill="#000" stroke="none" stroke-width="0"/>
<rect x="255.66" y="369.44" width="6.10" height="76.26" fill="#fff"/>
<path d="M255.66 370.94L257.16 369.44M255.66 373.94L260.16 369.44M255.66 376.94L261.76 370.84M255.66 379.94L261.76 373.84M255.66 382.94L261.76 376.84M255.66 385.94L261.76 379.84M255.66 388.94L261.76 382.84M255.66 391.94L261.76 385.84M255.66 394.94L261.76 388.84M255.66 397.94L261.76 391.84M255.66 400.94L261.76 394.84M255.66 403.94L261.76 397.84M255.66 406.94L261.76 400.84M255.66 409.94L261.76 403.84M255.66 412.94L261.76 406.84M255.66 415.94L261.76 409.84M255.66 418.94L261.76 412.84M255.66 421.94L261.76 415.84M255.66 424.94L261.76 418.84M255.66 427.94L261.76 421.84M255.66 430.94L261.76 424.84M255.66 433.94L261.76 427.84M255.66 436.94L261.76 430.84M255.66 439.94L261.76 433.84M255.66 442.94L261.76 436.84M255.90 445.70L261.76 439.84M258.90 445.70L261.76 442.84" stroke="#1a1a1a" stroke-width="0.78" fill="none"/>
<rect x="255.66" y="369.44" width="6.10" height="76.26" fill="none" stroke="#333" stroke-width="0.6"/>
<line x1="258.71" y1="364.35" x2="258.71" y2="373.93" stroke="#2a2a2a" stroke-width="0.9"/>
<line x1="256.81" y1="364.35" x2="260.61" y2="364.35" stroke="#2a2a2a" stroke-width="0.9"/>
<line x1="256.81" y1="373.93" x2="260.61" y2="373.93" stroke="#2a2a2a" stroke-width="0.9"/>
<line x1="273.37" y1="371.53" x2="273.37" y2="373.13" stroke="#2a2a2a" stroke-width="0.9"/>
<line x1="271.47" y1="371.53" x2="275.27" y2="371.53" stroke="#2a2a2a" stroke-width="0.9"/>
<rect x="270.02" y="373.13" width="6.70" height="72.57" fill="#000" stroke="none" stroke-width="0"/>
<rect x="277.02" y="375.02" width="6.10" height="70.68" fill="#fff"/>
<path d="M277.02 376.52L278.52 375.02M277.02 379.52L281.52 375.02M277.02 382.52L283.12 376.42M277.02 385.52L283.12 379.42M277.02 388.52L283.12 382.42M277.02 391.52L283.12 385.42M277.02 394.52L283.12 388.42M277.02 397.52L283.12 391.42M277.02 400.52L283.12 394.42M277.02 403.52L283.12 397.42M277.02 406.52L283.12 400.42M277.02 409.52L283.12 403.42M277.02 412.52L283.12 406.42M277.02 415.52L283.12 409.42M277.02 418.52L283.12 412.42M277.02 421.52L283.12 415.42M277.02 424.52L283.12 418.42M277.02 427.52L283.12 421.42M277.02 430.52L283.12 424.42M277.02 433.52L283.12 427.42M277.02 436.52L283.12 430.42M277.02 439.52L283.12 433.42M277.02 442.52L283.12 436.42M277.02 445.52L283.12 439.42M279.84 445.70L283.12 442.42M282.84 445.70L283.12 445.42" stroke="#1a1a1a" stroke-width="0.78" fill="none"/>
<rect x="277.02" y="375.02" width="6.10" height="70.68" fill="none" stroke="#333" stroke-width="0.6"/>
<line x1="280.07" y1="366.75" x2="280.07" y2="382.70" stroke="#2a2a2a" stroke-width="0.9"/>
<line x1="278.17" y1="366.75" x2="281.97" y2="366.75" stroke="#2a2a2a" stroke-width="0.9"/>
<line x1="278.17" y1="382.70" x2="281.97" y2="382.70" stroke="#2a2a2a" stroke-width="0.9"/>
<line x1="294.73" y1="369.14" x2="294.73" y2="373.13" stroke="#2a2a2a" stroke-width="0.9"/>
<line x1="292.83" y1="369.14" x2="296.63" y2="369.14" stroke="#2a2a2a" stroke-width="0.9"/>
<rect x="291.38" y="373.13" width="6.70" height="72.57" fill="#000" stroke="none" stroke-width="0"/>
<rect x="298.38" y="383.00" width="6.10" height="62.70" fill="#fff"/>
<path d="M298.38 384.50L299.88 383.00M298.38 387.50L302.88 383.00M298.38 390.50L304.48 384.40M298.38 393.50L304.48 387.40M298.38 396.50L304.48 390.40M298.38 399.50L304.48 393.40M298.38 402.50L304.48 396.40M298.38 405.50L304.48 399.40M298.38 408.50L304.48 402.40M298.38 411.50L304.48 405.40M298.38 414.50L304.48 408.40M298.38 417.50L304.48 411.40M298.38 420.50L304.48 414.40M298.38 423.50L304.48 417.40M298.38 426.50L304.48 420.40M298.38 429.50L304.48 423.40M298.38 432.50L304.48 426.40M298.38 435.50L304.48 429.40M298.38 438.50L304.48 432.40M298.38 441.50L304.48 435.40M298.38 444.50L304.48 438.40M300.18 445.70L304.48 441.40M303.18 445.70L304.48 444.40" stroke="#1a1a1a" stroke-width="0.78" fill="none"/>
<rect x="298.38" y="383.00" width="6.10" height="62.70" fill="none" stroke="#333" stroke-width="0.6"/>
<line x1="301.43" y1="376.32" x2="301.43" y2="389.08" stroke="#2a2a2a" stroke-width="0.9"/>
<line x1="299.53" y1="376.32" x2="303.33" y2="376.32" stroke="#2a2a2a" stroke-width="0.9"/>
<line x1="299.53" y1="389.08" x2="303.33" y2="389.08" stroke="#2a2a2a" stroke-width="0.9"/>
<line x1="316.09" y1="367.54" x2="316.09" y2="369.14" stroke="#2a2a2a" stroke-width="0.9"/>
<line x1="314.19" y1="367.54" x2="317.99" y2="367.54" stroke="#2a2a2a" stroke-width="0.9"/>
<rect x="312.74" y="369.14" width="6.70" height="76.56" fill="#000" stroke="none" stroke-width="0"/>
<rect x="319.74" y="363.06" width="6.10" height="82.64" fill="#fff"/>
<path d="M319.74 364.56L321.24 363.06M319.74 367.56L324.24 363.06M319.74 370.56L325.84 364.46M319.74 373.56L325.84 367.46M319.74 376.56L325.84 370.46M319.74 379.56L325.84 373.46M319.74 382.56L325.84 376.46M319.74 385.56L325.84 379.46M319.74 388.56L325.84 382.46M319.74 391.56L325.84 385.46M319.74 394.56L325.84 388.46M319.74 397.56L325.84 391.46M319.74 400.56L325.84 394.46M319.74 403.56L325.84 397.46M319.74 406.56L325.84 400.46M319.74 409.56L325.84 403.46M319.74 412.56L325.84 406.46M319.74 415.56L325.84 409.46M319.74 418.56L325.84 412.46M319.74 421.56L325.84 415.46M319.74 424.56L325.84 418.46M319.74 427.56L325.84 421.46M319.74 430.56L325.84 424.46M319.74 433.56L325.84 427.46M319.74 436.56L325.84 430.46M319.74 439.56L325.84 433.46M319.74 442.56L325.84 436.46M319.74 445.56L325.84 439.46M322.60 445.70L325.84 442.46M325.60 445.70L325.84 445.46" stroke="#1a1a1a" stroke-width="0.78" fill="none"/>
<rect x="319.74" y="363.06" width="6.10" height="82.64" fill="none" stroke="#333" stroke-width="0.6"/>
<line x1="322.79" y1="357.18" x2="322.79" y2="368.34" stroke="#2a2a2a" stroke-width="0.9"/>
<line x1="320.89" y1="357.18" x2="324.69" y2="357.18" stroke="#2a2a2a" stroke-width="0.9"/>
<line x1="320.89" y1="368.34" x2="324.69" y2="368.34" stroke="#2a2a2a" stroke-width="0.9"/>
<line x1="337.45" y1="361.16" x2="337.45" y2="367.54" stroke="#2a2a2a" stroke-width="0.9"/>
<line x1="335.55" y1="361.16" x2="339.35" y2="361.16" stroke="#2a2a2a" stroke-width="0.9"/>
<rect x="334.10" y="367.54" width="6.70" height="78.16" fill="#000" stroke="none" stroke-width="0"/>
<rect x="341.10" y="355.88" width="6.10" height="89.82" fill="#fff"/>
<path d="M341.10 357.38L342.60 355.88M341.10 360.38L345.60 355.88M341.10 363.38L347.20 357.28M341.10 366.38L347.20 360.28M341.10 369.38L347.20 363.28M341.10 372.38L347.20 366.28M341.10 375.38L347.20 369.28M341.10 378.38L347.20 372.28M341.10 381.38L347.20 375.28M341.10 384.38L347.20 378.28M341.10 387.38L347.20 381.28M341.10 390.38L347.20 384.28M341.10 393.38L347.20 387.28M341.10 396.38L347.20 390.28M341.10 399.38L347.20 393.28M341.10 402.38L347.20 396.28M341.10 405.38L347.20 399.28M341.10 408.38L347.20 402.28M341.10 411.38L347.20 405.28M341.10 414.38L347.20 408.28M341.10 417.38L347.20 411.28M341.10 420.38L347.20 414.28M341.10 423.38L347.20 417.28M341.10 426.38L347.20 420.28M341.10 429.38L347.20 423.28M341.10 432.38L347.20 426.28M341.10 435.38L347.20 429.28M341.10 438.38L347.20 432.28M341.10 441.38L347.20 435.28M341.10 444.38L347.20 438.28M342.78 445.70L347.20 441.28M345.78 445.70L347.20 444.28" stroke="#1a1a1a" stroke-width="0.78" fill="none"/>
<rect x="341.10" y="355.88" width="6.10" height="89.82" fill="none" stroke="#333" stroke-width="0.6"/>
<line x1="344.15" y1="350.80" x2="344.15" y2="360.37" stroke="#2a2a2a" stroke-width="0.9"/>
<line x1="342.25" y1="350.80" x2="346.05" y2="350.80" stroke="#2a2a2a" stroke-width="0.9"/>
<line x1="342.25" y1="360.37" x2="346.05" y2="360.37" stroke="#2a2a2a" stroke-width="0.9"/>
<text x="200.80" y="343.40" font-size="17.3" font-weight="bold" font-style="normal" text-anchor="start" fill="#000" stroke="#000" stroke-width="0.3">G</text>
<line x1="223.30" y1="503.80" x2="223.30" y2="600.30" stroke="#b4b4b4" stroke-width="1"/>
<line x1="220.80" y1="599.80" x2="351.50" y2="599.80" stroke="#cfcfcf" stroke-width="1"/>
<line x1="220.30" y1="599.80" x2="223.30" y2="599.80" stroke="#c4c4c4" stroke-width="1"/>
<line x1="220.30" y1="583.80" x2="223.30" y2="583.80" stroke="#c4c4c4" stroke-width="1"/>
<line x1="220.30" y1="567.80" x2="223.30" y2="567.80" stroke="#c4c4c4" stroke-width="1"/>
<line x1="220.30" y1="551.80" x2="223.30" y2="551.80" stroke="#c4c4c4" stroke-width="1"/>
<line x1="220.30" y1="535.80" x2="223.30" y2="535.80" stroke="#c4c4c4" stroke-width="1"/>
<line x1="220.30" y1="519.80" x2="223.30" y2="519.80" stroke="#c4c4c4" stroke-width="1"/>
<line x1="220.30" y1="503.80" x2="223.30" y2="503.80" stroke="#c4c4c4" stroke-width="1"/>
<text x="215.30" y="602.85" font-size="8.4" font-weight="bold" font-style="normal" text-anchor="end" fill="#000" stroke="#000" stroke-width="0.3">0</text>
<text x="215.30" y="586.85" font-size="8.4" font-weight="bold" font-style="normal" text-anchor="end" fill="#000" stroke="#000" stroke-width="0.3">20</text>
<text x="215.30" y="570.85" font-size="8.4" font-weight="bold" font-style="normal" text-anchor="end" fill="#000" stroke="#000" stroke-width="0.3">40</text>
<text x="215.30" y="554.85" font-size="8.4" font-weight="bold" font-style="normal" text-anchor="end" fill="#000" stroke="#000" stroke-width="0.3">60</text>
<text x="215.30" y="538.85" font-size="8.4" font-weight="bold" font-style="normal" text-anchor="end" fill="#000" stroke="#000" stroke-width="0.3">80</text>
<text x="215.30" y="522.85" font-size="8.4" font-weight="bold" font-style="normal" text-anchor="end" fill="#000" stroke="#000" stroke-width="0.3">100</text>
<text x="215.30" y="506.85" font-size="8.4" font-weight="bold" font-style="normal" text-anchor="end" fill="#000" stroke="#000" stroke-width="0.3">120</text>
<line x1="224.50" y1="519.80" x2="351.00" y2="519.80" stroke="#111" stroke-width="1.3" stroke-dasharray="3.4 1.8"/>
<line x1="273.46" y1="542.50" x2="273.46" y2="544.90" stroke="#2a2a2a" stroke-width="0.9"/>
<line x1="271.56" y1="542.50" x2="275.36" y2="542.50" stroke="#2a2a2a" stroke-width="0.9"/>
<rect x="270.01" y="544.90" width="6.90" height="54.40" fill="#000" stroke="none" stroke-width="0"/>
<rect x="277.21" y="573.20" width="6.30" height="26.10" fill="#fff"/>
<path d="M277.21 574.70L278.71 573.20M277.21 577.70L281.71 573.20M277.21 580.70L283.51 574.40M277.21 583.70L283.51 577.40M277.21 586.70L283.51 580.40M277.21 589.70L283.51 583.40M277.21 592.70L283.51 586.40M277.21 595.70L283.51 589.40M277.21 598.70L283.51 592.40M279.61 599.30L283.51 595.40M282.61 599.30L283.51 598.40" stroke="#1a1a1a" stroke-width="0.78" fill="none"/>
<rect x="277.21" y="573.20" width="6.30" height="26.10" fill="none" stroke="#333" stroke-width="0.6"/>
<line x1="280.36" y1="569.70" x2="280.36" y2="576.10" stroke="#2a2a2a" stroke-width="0.9"/>
<line x1="278.46" y1="569.70" x2="282.26" y2="569.70" stroke="#2a2a2a" stroke-width="0.9"/>
<line x1="278.46" y1="576.10" x2="282.26" y2="576.10" stroke="#2a2a2a" stroke-width="0.9"/>
<line x1="294.99" y1="552.10" x2="294.99" y2="553.70" stroke="#2a2a2a" stroke-width="0.9"/>
<line x1="293.09" y1="552.10" x2="296.89" y2="552.10" stroke="#2a2a2a" stroke-width="0.9"/>
<rect x="291.54" y="553.70" width="6.90" height="45.60" fill="#000" stroke="none" stroke-width="0"/>
<rect x="298.74" y="574.00" width="6.30" height="25.30" fill="#fff"/>
<path d="M298.74 575.50L300.24 574.00M298.74 578.50L303.24 574.00M298.74 581.50L305.04 575.20M298.74 584.50L305.04 578.20M298.74 587.50L305.04 581.20M298.74 590.50L305.04 584.20M298.74 593.50L305.04 587.20M298.74 596.50L305.04 590.20M298.94 599.30L305.04 593.20M301.94 599.30L305.04 596.20M304.94 599.30L305.04 599.20" stroke="#1a1a1a" stroke-width="0.78" fill="none"/>
<rect x="298.74" y="574.00" width="6.30" height="25.30" fill="none" stroke="#333" stroke-width="0.6"/>
<line x1="301.89" y1="570.50" x2="301.89" y2="576.90" stroke="#2a2a2a" stroke-width="0.9"/>
<line x1="299.99" y1="570.50" x2="303.79" y2="570.50" stroke="#2a2a2a" stroke-width="0.9"/>
<line x1="299.99" y1="576.90" x2="303.79" y2="576.90" stroke="#2a2a2a" stroke-width="0.9"/>
<line x1="316.52" y1="533.70" x2="316.52" y2="538.50" stroke="#2a2a2a" stroke-width="0.9"/>
<line x1="314.62" y1="533.70" x2="318.42" y2="533.70" stroke="#2a2a2a" stroke-width="0.9"/>
<rect x="313.07" y="538.50" width="6.90" height="60.80" fill="#000" stroke="none" stroke-width="0"/>
<rect x="320.27" y="536.40" width="6.30" height="62.90" fill="#fff"/>
<path d="M320.27 537.90L321.77 536.40M320.27 540.90L324.77 536.40M320.27 543.90L326.57 537.60M320.27 546.90L326.57 540.60M320.27 549.90L326.57 543.60M320.27 552.90L326.57 546.60M320.27 555.90L326.57 549.60M320.27 558.90L326.57 552.60M320.27 561.90L326.57 555.60M320.27 564.90L326.57 558.60M320.27 567.90L326.57 561.60M320.27 570.90L326.57 564.60M320.27 573.90L326.57 567.60M320.27 576.90L326.57 570.60M320.27 579.90L326.57 573.60M320.27 582.90L326.57 576.60M320.27 585.90L326.57 579.60M320.27 588.90L326.57 582.60M320.27 591.90L326.57 585.60M320.27 594.90L326.57 588.60M320.27 597.90L326.57 591.60M321.87 599.30L326.57 594.60M324.87 599.30L326.57 597.60" stroke="#1a1a1a" stroke-width="0.78" fill="none"/>
<rect x="320.27" y="536.40" width="6.30" height="62.90" fill="none" stroke="#333" stroke-width="0.6"/>
<line x1="323.42" y1="529.70" x2="323.42" y2="542.50" stroke="#2a2a2a" stroke-width="0.9"/>
<line x1="321.52" y1="529.70" x2="325.32" y2="529.70" stroke="#2a2a2a" stroke-width="0.9"/>
<line x1="321.52" y1="542.50" x2="325.32" y2="542.50" stroke="#2a2a2a" stroke-width="0.9"/>
<line x1="338.05" y1="504.10" x2="338.05" y2="515.30" stroke="#2a2a2a" stroke-width="0.9"/>
<line x1="336.15" y1="504.10" x2="339.95" y2="504.10" stroke="#2a2a2a" stroke-width="0.9"/>
<rect x="334.60" y="515.30" width="6.90" height="84.00" fill="#000" stroke="none" stroke-width="0"/>
<rect x="341.80" y="528.40" width="6.30" height="70.90" fill="#fff"/>
<path d="M341.80 529.90L343.30 528.40M341.80 532.90L346.30 528.40M341.80 535.90L348.10 529.60M341.80 538.90L348.10 532.60M341.80 541.90L348.10 535.60M341.80 544.90L348.10 538.60M341.80 547.90L348.10 541.60M341.80 550.90L348.10 544.60M341.80 553.90L348.10 547.60M341.80 556.90L348.10 550.60M341.80 559.90L348.10 553.60M341.80 562.90L348.10 556.60M341.80 565.90L348.10 559.60M341.80 568.90L348.10 562.60M341.80 571.90L348.10 565.60M341.80 574.90L348.10 568.60M341.80 577.90L348.10 571.60M341.80 580.90L348.10 574.60M341.80 583.90L348.10 577.60M341.80 586.90L348.10 580.60M341.80 589.90L348.10 583.60M341.80 592.90L348.10 586.60M341.80 595.90L348.10 589.60M341.80 598.90L348.10 592.60M344.40 599.30L348.10 595.60M347.40 599.30L348.10 598.60" stroke="#1a1a1a" stroke-width="0.78" fill="none"/>
<rect x="341.80" y="528.40" width="6.30" height="70.90" fill="none" stroke="#333" stroke-width="0.6"/>
<line x1="344.95" y1="524.90" x2="344.95" y2="531.30" stroke="#2a2a2a" stroke-width="0.9"/>
<line x1="343.05" y1="524.90" x2="346.85" y2="524.90" stroke="#2a2a2a" stroke-width="0.9"/>
<line x1="343.05" y1="531.30" x2="346.85" y2="531.30" stroke="#2a2a2a" stroke-width="0.9"/>
<text x="273.90" y="545.30" font-size="14.5" font-weight="bold" font-style="normal" text-anchor="middle" fill="#000" stroke="#000" stroke-width="0.3">*</text>
<text x="280.30" y="572.70" font-size="14.5" font-weight="bold" font-style="normal" text-anchor="middle" fill="#000" stroke="#000" stroke-width="0.3">*</text>
<text x="295.50" y="554.50" font-size="14.5" font-weight="bold" font-style="normal" text-anchor="middle" fill="#000" stroke="#000" stroke-width="0.3">*</text>
<text x="302.80" y="572.40" font-size="14.5" font-weight="bold" font-style="normal" text-anchor="middle" fill="#000" stroke="#000" stroke-width="0.3">*</text>
<text x="315.80" y="536.90" font-size="14.5" font-weight="bold" font-style="normal" text-anchor="middle" fill="#000" stroke="#000" stroke-width="0.3">*</text>
<text x="322.90" y="534.20" font-size="14.5" font-weight="bold" font-style="normal" text-anchor="middle" fill="#000" stroke="#000" stroke-width="0.3">*</text>
<text x="202.00" y="497.20" font-size="17.3" font-weight="bold" font-style="normal" text-anchor="start" fill="#000" stroke="#000" stroke-width="0.3">H</text>
<text x="234.30" y="595.90" font-size="9" font-weight="bold" font-style="normal" text-anchor="middle" fill="#000" stroke="#000" stroke-width="0.3" textLength="15.40" lengthAdjust="spacingAndGlyphs">n.d.</text>
<text x="255.70" y="595.90" font-size="9" font-weight="bold" font-style="normal" text-anchor="middle" fill="#000" stroke="#000" stroke-width="0.3" textLength="15.40" lengthAdjust="spacingAndGlyphs">n.d.</text>
<text x="239.40" y="603.60" font-size="11.7" font-weight="bold" font-style="normal" text-anchor="end" fill="#000" stroke="#000" stroke-width="0.3" transform="rotate(-90 239.40 603.60)">10µM 4F-GalNAc</text>
<text x="260.85" y="603.60" font-size="11.7" font-weight="bold" font-style="normal" text-anchor="end" fill="#000" stroke="#000" stroke-width="0.3" transform="rotate(-90 260.85 603.60)">25µM 4F-GalNAc</text>
<text x="282.30" y="603.60" font-size="11.7" font-weight="bold" font-style="normal" text-anchor="end" fill="#000" stroke="#000" stroke-width="0.3" transform="rotate(-90 282.30 603.60)">50µM 4F-GalNAc</text>
<text x="303.75" y="603.60" font-size="11.7" font-weight="bold" font-style="normal" text-anchor="end" fill="#000" stroke="#000" stroke-width="0.3" transform="rotate(-90 303.75 603.60)">100µM 4F-GalNAc</text>
<text x="325.20" y="603.60" font-size="11.7" font-weight="bold" font-style="normal" text-anchor="end" fill="#000" stroke="#000" stroke-width="0.3" transform="rotate(-90 325.20 603.60)">50µM 4F-GlcNAc</text>
<text x="346.65" y="603.60" font-size="11.7" font-weight="bold" font-style="normal" text-anchor="end" fill="#000" stroke="#000" stroke-width="0.3" transform="rotate(-90 346.65 603.60)">100µM GalNAc</text>
<line x1="390.20" y1="43.90" x2="390.20" y2="140.40" stroke="#b4b4b4" stroke-width="1"/>
<line x1="387.70" y1="139.90" x2="520.00" y2="139.90" stroke="#cfcfcf" stroke-width="1"/>
<line x1="387.20" y1="139.90" x2="390.20" y2="139.90" stroke="#c4c4c4" stroke-width="1"/>
<line x1="387.20" y1="123.90" x2="390.20" y2="123.90" stroke="#c4c4c4" stroke-width="1"/>
<line x1="387.20" y1="107.90" x2="390.20" y2="107.90" stroke="#c4c4c4" stroke-width="1"/>
<line x1="387.20" y1="91.90" x2="390.20" y2="91.90" stroke="#c4c4c4" stroke-width="1"/>
<line x1="387.20" y1="75.90" x2="390.20" y2="75.90" stroke="#c4c4c4" stroke-width="1"/>
<line x1="387.20" y1="59.90" x2="390.20" y2="59.90" stroke="#c4c4c4" stroke-width="1"/>
<line x1="387.20" y1="43.90" x2="390.20" y2="43.90" stroke="#c4c4c4" stroke-width="1"/>
<text x="382.80" y="142.95" font-size="8.4" font-weight="bold" font-style="normal" text-anchor="end" fill="#000" stroke="#000" stroke-width="0.3">0</text>
<text x="382.80" y="126.95" font-size="8.4" font-weight="bold" font-style="normal" text-anchor="end" fill="#000" stroke="#000" stroke-width="0.3">20</text>
<text x="382.80" y="110.95" font-size="8.4" font-weight="bold" font-style="normal" text-anchor="end" fill="#000" stroke="#000" stroke-width="0.3">40</text>
<text x="382.80" y="94.95" font-size="8.4" font-weight="bold" font-style="normal" text-anchor="end" fill="#000" stroke="#000" stroke-width="0.3">60</text>
<text x="382.80" y="78.95" font-size="8.4" font-weight="bold" font-style="normal" text-anchor="end" fill="#000" stroke="#000" stroke-width="0.3">80</text>
<text x="382.80" y="62.95" font-size="8.4" font-weight="bold" font-style="normal" text-anchor="end" fill="#000" stroke="#000" stroke-width="0.3">100</text>
<text x="382.80" y="46.95" font-size="8.4" font-weight="bold" font-style="normal" text-anchor="end" fill="#000" stroke="#000" stroke-width="0.3">120</text>
<line x1="392.00" y1="60.00" x2="512.50" y2="60.00" stroke="#111" stroke-width="1.15" stroke-dasharray="3.2 2.3"/>
<line x1="405.70" y1="91.00" x2="405.70" y2="97.40" stroke="#2a2a2a" stroke-width="0.9"/>
<line x1="403.80" y1="91.00" x2="407.60" y2="91.00" stroke="#2a2a2a" stroke-width="0.9"/>
<rect x="399.50" y="97.40" width="12.40" height="42.00" fill="#000" stroke="none" stroke-width="0"/>
<rect x="412.20" y="112.90" width="11.80" height="26.50" fill="#fff"/>
<path d="M412.20 114.65L413.95 112.90M412.20 118.15L417.45 112.90M412.20 121.65L420.95 112.90M412.20 125.15L424.00 113.35M412.20 128.65L424.00 116.85M412.20 132.15L424.00 120.35M412.20 135.65L424.00 123.85M412.20 139.15L424.00 127.35M415.45 139.40L424.00 130.85M418.95 139.40L424.00 134.35M422.45 139.40L424.00 137.85" stroke="#1a1a1a" stroke-width="0.92" fill="none"/>
<rect x="412.20" y="112.90" width="11.80" height="26.50" fill="none" stroke="#333" stroke-width="0.6"/>
<line x1="418.10" y1="110.20" x2="418.10" y2="115.00" stroke="#2a2a2a" stroke-width="0.9"/>
<line x1="416.20" y1="110.20" x2="420.00" y2="110.20" stroke="#2a2a2a" stroke-width="0.9"/>
<line x1="416.20" y1="115.00" x2="420.00" y2="115.00" stroke="#2a2a2a" stroke-width="0.9"/>
<line x1="448.45" y1="66.60" x2="448.45" y2="77.80" stroke="#2a2a2a" stroke-width="0.9"/>
<line x1="446.55" y1="66.60" x2="450.35" y2="66.60" stroke="#2a2a2a" stroke-width="0.9"/>
<rect x="442.25" y="77.80" width="12.40" height="61.60" fill="#000" stroke="none" stroke-width="0"/>
<rect x="454.95" y="74.90" width="11.80" height="64.50" fill="#fff"/>
<path d="M454.95 76.65L456.70 74.90M454.95 80.15L460.20 74.90M454.95 83.65L463.70 74.90M454.95 87.15L466.75 75.35M454.95 90.65L466.75 78.85M454.95 94.15L466.75 82.35M454.95 97.65L466.75 85.85M454.95 101.15L466.75 89.35M454.95 104.65L466.75 92.85M454.95 108.15L466.75 96.35M454.95 111.65L466.75 99.85M454.95 115.15L466.75 103.35M454.95 118.65L466.75 106.85M454.95 122.15L466.75 110.35M454.95 125.65L466.75 113.85M454.95 129.15L466.75 117.35M454.95 132.65L466.75 120.85M454.95 136.15L466.75 124.35M455.20 139.40L466.75 127.85M458.70 139.40L466.75 131.35M462.20 139.40L466.75 134.85M465.70 139.40L466.75 138.35" stroke="#1a1a1a" stroke-width="0.92" fill="none"/>
<rect x="454.95" y="74.90" width="11.80" height="64.50" fill="none" stroke="#333" stroke-width="0.6"/>
<line x1="460.85" y1="71.40" x2="460.85" y2="77.80" stroke="#2a2a2a" stroke-width="0.9"/>
<line x1="458.95" y1="71.40" x2="462.75" y2="71.40" stroke="#2a2a2a" stroke-width="0.9"/>
<line x1="458.95" y1="77.80" x2="462.75" y2="77.80" stroke="#2a2a2a" stroke-width="0.9"/>
<line x1="491.20" y1="61.00" x2="491.20" y2="67.40" stroke="#2a2a2a" stroke-width="0.9"/>
<line x1="489.30" y1="61.00" x2="493.10" y2="61.00" stroke="#2a2a2a" stroke-width="0.9"/>
<rect x="485.00" y="67.40" width="12.40" height="72.00" fill="#000" stroke="none" stroke-width="0"/>
<rect x="497.70" y="55.30" width="11.80" height="84.10" fill="#fff"/>
<path d="M497.70 57.05L499.45 55.30M497.70 60.55L502.95 55.30M497.70 64.05L506.45 55.30M497.70 67.55L509.50 55.75M497.70 71.05L509.50 59.25M497.70 74.55L509.50 62.75M497.70 78.05L509.50 66.25M497.70 81.55L509.50 69.75M497.70 85.05L509.50 73.25M497.70 88.55L509.50 76.75M497.70 92.05L509.50 80.25M497.70 95.55L509.50 83.75M497.70 99.05L509.50 87.25M497.70 102.55L509.50 90.75M497.70 106.05L509.50 94.25M497.70 109.55L509.50 97.75M497.70 113.05L509.50 101.25M497.70 116.55L509.50 104.75M497.70 120.05L509.50 108.25M497.70 123.55L509.50 111.75M497.70 127.05L509.50 115.25M497.70 130.55L509.50 118.75M497.70 134.05L509.50 122.25M497.70 137.55L509.50 125.75M499.35 139.40L509.50 129.25M502.85 139.40L509.50 132.75M506.35 139.40L509.50 136.25" stroke="#1a1a1a" stroke-width="0.92" fill="none"/>
<rect x="497.70" y="55.30" width="11.80" height="84.10" fill="none" stroke="#333" stroke-width="0.6"/>
<line x1="503.60" y1="51.80" x2="503.60" y2="58.20" stroke="#2a2a2a" stroke-width="0.9"/>
<line x1="501.70" y1="51.80" x2="505.50" y2="51.80" stroke="#2a2a2a" stroke-width="0.9"/>
<line x1="501.70" y1="58.20" x2="505.50" y2="58.20" stroke="#2a2a2a" stroke-width="0.9"/>
<text x="405.75" y="92.90" font-size="14.5" font-weight="bold" font-style="normal" text-anchor="middle" fill="#000" stroke="#000" stroke-width="0.3">*</text>
<text x="418.00" y="112.40" font-size="14.5" font-weight="bold" font-style="normal" text-anchor="middle" fill="#000" stroke="#000" stroke-width="0.3">*</text>
<text x="448.00" y="69.90" font-size="14.5" font-weight="bold" font-style="normal" text-anchor="middle" fill="#000" stroke="#000" stroke-width="0.3">*</text>
<text x="460.00" y="72.40" font-size="14.5" font-weight="bold" font-style="normal" text-anchor="middle" fill="#000" stroke="#000" stroke-width="0.3">*</text>
<text x="372.00" y="35.50" font-size="17.3" font-weight="bold" font-style="normal" text-anchor="start" fill="#000" stroke="#000" stroke-width="0.3">I</text>
<text x="395.50" y="48.30" font-size="10.5" font-weight="normal" font-style="italic" text-anchor="start" fill="#000" textLength="87.50" lengthAdjust="spacingAndGlyphs">No Neuraminidase</text>
<line x1="390.20" y1="197.50" x2="390.20" y2="294.00" stroke="#b4b4b4" stroke-width="1"/>
<line x1="387.70" y1="293.50" x2="520.00" y2="293.50" stroke="#cfcfcf" stroke-width="1"/>
<line x1="387.20" y1="293.50" x2="390.20" y2="293.50" stroke="#c4c4c4" stroke-width="1"/>
<line x1="387.20" y1="277.50" x2="390.20" y2="277.50" stroke="#c4c4c4" stroke-width="1"/>
<line x1="387.20" y1="261.50" x2="390.20" y2="261.50" stroke="#c4c4c4" stroke-width="1"/>
<line x1="387.20" y1="245.50" x2="390.20" y2="245.50" stroke="#c4c4c4" stroke-width="1"/>
<line x1="387.20" y1="229.50" x2="390.20" y2="229.50" stroke="#c4c4c4" stroke-width="1"/>
<line x1="387.20" y1="213.50" x2="390.20" y2="213.50" stroke="#c4c4c4" stroke-width="1"/>
<line x1="387.20" y1="197.50" x2="390.20" y2="197.50" stroke="#c4c4c4" stroke-width="1"/>
<text x="382.80" y="296.55" font-size="8.4" font-weight="bold" font-style="normal" text-anchor="end" fill="#000" stroke="#000" stroke-width="0.3">0</text>
<text x="382.80" y="280.55" font-size="8.4" font-weight="bold" font-style="normal" text-anchor="end" fill="#000" stroke="#000" stroke-width="0.3">20</text>
<text x="382.80" y="264.55" font-size="8.4" font-weight="bold" font-style="normal" text-anchor="end" fill="#000" stroke="#000" stroke-width="0.3">40</text>
<text x="382.80" y="248.55" font-size="8.4" font-weight="bold" font-style="normal" text-anchor="end" fill="#000" stroke="#000" stroke-width="0.3">60</text>
<text x="382.80" y="232.55" font-size="8.4" font-weight="bold" font-style="normal" text-anchor="end" fill="#000" stroke="#000" stroke-width="0.3">80</text>
<text x="382.80" y="216.55" font-size="8.4" font-weight="bold" font-style="normal" text-anchor="end" fill="#000" stroke="#000" stroke-width="0.3">100</text>
<text x="382.80" y="200.55" font-size="8.4" font-weight="bold" font-style="normal" text-anchor="end" fill="#000" stroke="#000" stroke-width="0.3">120</text>
<line x1="391.50" y1="214.40" x2="485.50" y2="214.40" stroke="#111" stroke-width="1.2" stroke-dasharray="3.2 2.2"/>
<line x1="405.70" y1="255.80" x2="405.70" y2="259.00" stroke="#2a2a2a" stroke-width="0.9"/>
<line x1="403.80" y1="255.80" x2="407.60" y2="255.80" stroke="#2a2a2a" stroke-width="0.9"/>
<rect x="399.50" y="259.00" width="12.40" height="33.60" fill="#000" stroke="none" stroke-width="0"/>
<rect x="412.20" y="279.30" width="11.80" height="13.30" fill="#fff"/>
<path d="M412.20 280.80L413.70 279.30M412.20 283.80L416.70 279.30M412.20 286.80L419.70 279.30M412.20 289.80L422.70 279.30M412.40 292.60L424.00 281.00M415.40 292.60L424.00 284.00M418.40 292.60L424.00 287.00M421.40 292.60L424.00 290.00" stroke="#1a1a1a" stroke-width="0.78" fill="none"/>
<rect x="412.20" y="279.30" width="11.80" height="13.30" fill="none" stroke="#333" stroke-width="0.6"/>
<line x1="418.10" y1="277.40" x2="418.10" y2="280.60" stroke="#2a2a2a" stroke-width="0.9"/>
<line x1="416.20" y1="277.40" x2="420.00" y2="277.40" stroke="#2a2a2a" stroke-width="0.9"/>
<line x1="416.20" y1="280.60" x2="420.00" y2="280.60" stroke="#2a2a2a" stroke-width="0.9"/>
<line x1="448.45" y1="216.60" x2="448.45" y2="217.40" stroke="#2a2a2a" stroke-width="0.9"/>
<line x1="446.55" y1="216.60" x2="450.35" y2="216.60" stroke="#2a2a2a" stroke-width="0.9"/>
<rect x="442.25" y="217.40" width="12.40" height="75.20" fill="#000" stroke="none" stroke-width="0"/>
<rect x="454.95" y="227.70" width="11.80" height="64.90" fill="#fff"/>
<path d="M454.95 229.20L456.45 227.70M454.95 232.20L459.45 227.70M454.95 235.20L462.45 227.70M454.95 238.20L465.45 227.70M454.95 241.20L466.75 229.40M454.95 244.20L466.75 232.40M454.95 247.20L466.75 235.40M454.95 250.20L466.75 238.40M454.95 253.20L466.75 241.40M454.95 256.20L466.75 244.40M454.95 259.20L466.75 247.40M454.95 262.20L466.75 250.40M454.95 265.20L466.75 253.40M454.95 268.20L466.75 256.40M454.95 271.20L466.75 259.40M454.95 274.20L466.75 262.40M454.95 277.20L466.75 265.40M454.95 280.20L466.75 268.40M454.95 283.20L466.75 271.40M454.95 286.20L466.75 274.40M454.95 289.20L466.75 277.40M454.95 292.20L466.75 280.40M457.55 292.60L466.75 283.40M460.55 292.60L466.75 286.40M463.55 292.60L466.75 289.40M466.55 292.60L466.75 292.40" stroke="#1a1a1a" stroke-width="0.78" fill="none"/>
<rect x="454.95" y="227.70" width="11.80" height="64.90" fill="none" stroke="#333" stroke-width="0.6"/>
<line x1="460.85" y1="224.20" x2="460.85" y2="230.60" stroke="#2a2a2a" stroke-width="0.9"/>
<line x1="458.95" y1="224.20" x2="462.75" y2="224.20" stroke="#2a2a2a" stroke-width="0.9"/>
<line x1="458.95" y1="230.60" x2="462.75" y2="230.60" stroke="#2a2a2a" stroke-width="0.9"/>
<line x1="491.20" y1="207.80" x2="491.20" y2="210.20" stroke="#2a2a2a" stroke-width="0.9"/>
<line x1="489.30" y1="207.80" x2="493.10" y2="207.80" stroke="#2a2a2a" stroke-width="0.9"/>
<rect x="485.00" y="210.20" width="12.40" height="82.40" fill="#000" stroke="none" stroke-width="0"/>
<rect x="497.70" y="210.50" width="11.80" height="82.10" fill="#fff"/>
<path d="M497.70 212.00L499.20 210.50M497.70 215.00L502.20 210.50M497.70 218.00L505.20 210.50M497.70 221.00L508.20 210.50M497.70 224.00L509.50 212.20M497.70 227.00L509.50 215.20M497.70 230.00L509.50 218.20M497.70 233.00L509.50 221.20M497.70 236.00L509.50 224.20M497.70 239.00L509.50 227.20M497.70 242.00L509.50 230.20M497.70 245.00L509.50 233.20M497.70 248.00L509.50 236.20M497.70 251.00L509.50 239.20M497.70 254.00L509.50 242.20M497.70 257.00L509.50 245.20M497.70 260.00L509.50 248.20M497.70 263.00L509.50 251.20M497.70 266.00L509.50 254.20M497.70 269.00L509.50 257.20M497.70 272.00L509.50 260.20M497.70 275.00L509.50 263.20M497.70 278.00L509.50 266.20M497.70 281.00L509.50 269.20M497.70 284.00L509.50 272.20M497.70 287.00L509.50 275.20M497.70 290.00L509.50 278.20M498.10 292.60L509.50 281.20M501.10 292.60L509.50 284.20M504.10 292.60L509.50 287.20M507.10 292.60L509.50 290.20" stroke="#1a1a1a" stroke-width="0.78" fill="none"/>
<rect x="497.70" y="210.50" width="11.80" height="82.10" fill="none" stroke="#333" stroke-width="0.6"/>
<line x1="503.60" y1="207.00" x2="503.60" y2="213.40" stroke="#2a2a2a" stroke-width="0.9"/>
<line x1="501.70" y1="207.00" x2="505.50" y2="207.00" stroke="#2a2a2a" stroke-width="0.9"/>
<line x1="501.70" y1="213.40" x2="505.50" y2="213.40" stroke="#2a2a2a" stroke-width="0.9"/>
<text x="406.20" y="259.40" font-size="14.5" font-weight="bold" font-style="normal" text-anchor="middle" fill="#000" stroke="#000" stroke-width="0.3">*</text>
<text x="418.50" y="278.70" font-size="14.5" font-weight="bold" font-style="normal" text-anchor="middle" fill="#000" stroke="#000" stroke-width="0.3">*</text>
<text x="461.00" y="228.30" font-size="14.5" font-weight="bold" font-style="normal" text-anchor="middle" fill="#000" stroke="#000" stroke-width="0.3">*</text>
<text x="370.30" y="190.60" font-size="17.3" font-weight="bold" font-style="normal" text-anchor="start" fill="#000" stroke="#000" stroke-width="0.3">J</text>
<line x1="390.20" y1="352.40" x2="390.20" y2="448.10" stroke="#b4b4b4" stroke-width="1"/>
<line x1="387.70" y1="447.60" x2="520.00" y2="447.60" stroke="#cfcfcf" stroke-width="1"/>
<line x1="387.20" y1="447.60" x2="390.20" y2="447.60" stroke="#c4c4c4" stroke-width="1"/>
<line x1="387.20" y1="434.00" x2="390.20" y2="434.00" stroke="#c4c4c4" stroke-width="1"/>
<line x1="387.20" y1="420.40" x2="390.20" y2="420.40" stroke="#c4c4c4" stroke-width="1"/>
<line x1="387.20" y1="406.80" x2="390.20" y2="406.80" stroke="#c4c4c4" stroke-width="1"/>
<line x1="387.20" y1="393.20" x2="390.20" y2="393.20" stroke="#c4c4c4" stroke-width="1"/>
<line x1="387.20" y1="379.60" x2="390.20" y2="379.60" stroke="#c4c4c4" stroke-width="1"/>
<line x1="387.20" y1="366.00" x2="390.20" y2="366.00" stroke="#c4c4c4" stroke-width="1"/>
<line x1="387.20" y1="352.40" x2="390.20" y2="352.40" stroke="#c4c4c4" stroke-width="1"/>
<text x="382.80" y="450.65" font-size="8.4" font-weight="bold" font-style="normal" text-anchor="end" fill="#000" stroke="#000" stroke-width="0.3">0</text>
<text x="382.80" y="437.05" font-size="8.4" font-weight="bold" font-style="normal" text-anchor="end" fill="#000" stroke="#000" stroke-width="0.3">20</text>
<text x="382.80" y="423.45" font-size="8.4" font-weight="bold" font-style="normal" text-anchor="end" fill="#000" stroke="#000" stroke-width="0.3">40</text>
<text x="382.80" y="409.85" font-size="8.4" font-weight="bold" font-style="normal" text-anchor="end" fill="#000" stroke="#000" stroke-width="0.3">60</text>
<text x="382.80" y="396.25" font-size="8.4" font-weight="bold" font-style="normal" text-anchor="end" fill="#000" stroke="#000" stroke-width="0.3">80</text>
<text x="382.80" y="382.65" font-size="8.4" font-weight="bold" font-style="normal" text-anchor="end" fill="#000" stroke="#000" stroke-width="0.3">100</text>
<text x="382.80" y="369.05" font-size="8.4" font-weight="bold" font-style="normal" text-anchor="end" fill="#000" stroke="#000" stroke-width="0.3">120</text>
<text x="382.80" y="355.45" font-size="8.4" font-weight="bold" font-style="normal" text-anchor="end" fill="#000" stroke="#000" stroke-width="0.3">140</text>
<line x1="391.50" y1="378.00" x2="485.50" y2="378.00" stroke="#111" stroke-width="1.3" stroke-dasharray="3.4 1.8"/>
<line x1="405.70" y1="378.76" x2="405.70" y2="380.12" stroke="#2a2a2a" stroke-width="0.9"/>
<line x1="403.80" y1="378.76" x2="407.60" y2="378.76" stroke="#2a2a2a" stroke-width="0.9"/>
<rect x="399.50" y="380.12" width="12.40" height="66.98" fill="#000" stroke="none" stroke-width="0"/>
<rect x="412.20" y="381.44" width="11.80" height="65.66" fill="#fff"/>
<path d="M412.20 383.24L413.70 381.44M412.20 386.84L416.70 381.44M412.20 390.44L419.70 381.44M412.20 394.04L422.70 381.44M412.20 397.64L424.00 383.48M412.20 401.24L424.00 387.08M412.20 404.84L424.00 390.68M412.20 408.44L424.00 394.28M412.20 412.04L424.00 397.88M412.20 415.64L424.00 401.48M412.20 419.24L424.00 405.08M412.20 422.84L424.00 408.68M412.20 426.44L424.00 412.28M412.20 430.04L424.00 415.88M412.20 433.64L424.00 419.48M412.20 437.24L424.00 423.08M412.20 440.84L424.00 426.68M412.20 444.44L424.00 430.28M412.98 447.10L424.00 433.88M415.98 447.10L424.00 437.48M418.98 447.10L424.00 441.08M421.98 447.10L424.00 444.68" stroke="#1a1a1a" stroke-width="0.85" fill="none"/>
<rect x="412.20" y="381.44" width="11.80" height="65.66" fill="none" stroke="#333" stroke-width="0.6"/>
<line x1="418.10" y1="378.42" x2="418.10" y2="383.86" stroke="#2a2a2a" stroke-width="0.9"/>
<line x1="416.20" y1="378.42" x2="420.00" y2="378.42" stroke="#2a2a2a" stroke-width="0.9"/>
<line x1="416.20" y1="383.86" x2="420.00" y2="383.86" stroke="#2a2a2a" stroke-width="0.9"/>
<line x1="448.45" y1="376.04" x2="448.45" y2="377.40" stroke="#2a2a2a" stroke-width="0.9"/>
<line x1="446.55" y1="376.04" x2="450.35" y2="376.04" stroke="#2a2a2a" stroke-width="0.9"/>
<rect x="442.25" y="377.40" width="12.40" height="69.70" fill="#000" stroke="none" stroke-width="0"/>
<rect x="454.95" y="363.42" width="11.80" height="83.68" fill="#fff"/>
<path d="M454.95 365.22L456.45 363.42M454.95 368.82L459.45 363.42M454.95 372.42L462.45 363.42M454.95 376.02L465.45 363.42M454.95 379.62L466.75 365.46M454.95 383.22L466.75 369.06M454.95 386.82L466.75 372.66M454.95 390.42L466.75 376.26M454.95 394.02L466.75 379.86M454.95 397.62L466.75 383.46M454.95 401.22L466.75 387.06M454.95 404.82L466.75 390.66M454.95 408.42L466.75 394.26M454.95 412.02L466.75 397.86M454.95 415.62L466.75 401.46M454.95 419.22L466.75 405.06M454.95 422.82L466.75 408.66M454.95 426.42L466.75 412.26M454.95 430.02L466.75 415.86M454.95 433.62L466.75 419.46M454.95 437.22L466.75 423.06M454.95 440.82L466.75 426.66M454.95 444.42L466.75 430.26M455.72 447.10L466.75 433.86M458.72 447.10L466.75 437.46M461.72 447.10L466.75 441.06M464.72 447.10L466.75 444.66" stroke="#1a1a1a" stroke-width="0.85" fill="none"/>
<rect x="454.95" y="363.42" width="11.80" height="83.68" fill="none" stroke="#333" stroke-width="0.6"/>
<line x1="460.85" y1="360.40" x2="460.85" y2="365.84" stroke="#2a2a2a" stroke-width="0.9"/>
<line x1="458.95" y1="360.40" x2="462.75" y2="360.40" stroke="#2a2a2a" stroke-width="0.9"/>
<line x1="458.95" y1="365.84" x2="462.75" y2="365.84" stroke="#2a2a2a" stroke-width="0.9"/>
<line x1="491.20" y1="372.98" x2="491.20" y2="375.02" stroke="#2a2a2a" stroke-width="0.9"/>
<line x1="489.30" y1="372.98" x2="493.10" y2="372.98" stroke="#2a2a2a" stroke-width="0.9"/>
<rect x="485.00" y="375.02" width="12.40" height="72.08" fill="#000" stroke="none" stroke-width="0"/>
<rect x="497.70" y="368.18" width="11.80" height="78.92" fill="#fff"/>
<path d="M497.70 369.98L499.20 368.18M497.70 373.58L502.20 368.18M497.70 377.18L505.20 368.18M497.70 380.78L508.20 368.18M497.70 384.38L509.50 370.22M497.70 387.98L509.50 373.82M497.70 391.58L509.50 377.42M497.70 395.18L509.50 381.02M497.70 398.78L509.50 384.62M497.70 402.38L509.50 388.22M497.70 405.98L509.50 391.82M497.70 409.58L509.50 395.42M497.70 413.18L509.50 399.02M497.70 416.78L509.50 402.62M497.70 420.38L509.50 406.22M497.70 423.98L509.50 409.82M497.70 427.58L509.50 413.42M497.70 431.18L509.50 417.02M497.70 434.78L509.50 420.62M497.70 438.38L509.50 424.22M497.70 441.98L509.50 427.82M497.70 445.58L509.50 431.42M499.43 447.10L509.50 435.02M502.43 447.10L509.50 438.62M505.43 447.10L509.50 442.22M508.43 447.10L509.50 445.82" stroke="#1a1a1a" stroke-width="0.85" fill="none"/>
<rect x="497.70" y="368.18" width="11.80" height="78.92" fill="none" stroke="#333" stroke-width="0.6"/>
<line x1="503.60" y1="365.16" x2="503.60" y2="370.60" stroke="#2a2a2a" stroke-width="0.9"/>
<line x1="501.70" y1="365.16" x2="505.50" y2="365.16" stroke="#2a2a2a" stroke-width="0.9"/>
<line x1="501.70" y1="370.60" x2="505.50" y2="370.60" stroke="#2a2a2a" stroke-width="0.9"/>
<text x="370.30" y="344.20" font-size="17.3" font-weight="bold" font-style="normal" text-anchor="start" fill="#000" stroke="#000" stroke-width="0.3">K</text>
<line x1="390.40" y1="503.72" x2="390.40" y2="599.80" stroke="#b4b4b4" stroke-width="1"/>
<line x1="387.90" y1="599.30" x2="520.00" y2="599.30" stroke="#cfcfcf" stroke-width="1"/>
<line x1="387.40" y1="599.30" x2="390.40" y2="599.30" stroke="#c4c4c4" stroke-width="1"/>
<line x1="387.40" y1="583.37" x2="390.40" y2="583.37" stroke="#c4c4c4" stroke-width="1"/>
<line x1="387.40" y1="567.44" x2="390.40" y2="567.44" stroke="#c4c4c4" stroke-width="1"/>
<line x1="387.40" y1="551.51" x2="390.40" y2="551.51" stroke="#c4c4c4" stroke-width="1"/>
<line x1="387.40" y1="535.58" x2="390.40" y2="535.58" stroke="#c4c4c4" stroke-width="1"/>
<line x1="387.40" y1="519.65" x2="390.40" y2="519.65" stroke="#c4c4c4" stroke-width="1"/>
<line x1="387.40" y1="503.72" x2="390.40" y2="503.72" stroke="#c4c4c4" stroke-width="1"/>
<text x="382.80" y="602.35" font-size="8.4" font-weight="bold" font-style="normal" text-anchor="end" fill="#000" stroke="#000" stroke-width="0.3">0</text>
<text x="382.80" y="586.42" font-size="8.4" font-weight="bold" font-style="normal" text-anchor="end" fill="#000" stroke="#000" stroke-width="0.3">20</text>
<text x="382.80" y="570.49" font-size="8.4" font-weight="bold" font-style="normal" text-anchor="end" fill="#000" stroke="#000" stroke-width="0.3">40</text>
<text x="382.80" y="554.56" font-size="8.4" font-weight="bold" font-style="normal" text-anchor="end" fill="#000" stroke="#000" stroke-width="0.3">60</text>
<text x="382.80" y="538.63" font-size="8.4" font-weight="bold" font-style="normal" text-anchor="end" fill="#000" stroke="#000" stroke-width="0.3">80</text>
<text x="382.80" y="522.70" font-size="8.4" font-weight="bold" font-style="normal" text-anchor="end" fill="#000" stroke="#000" stroke-width="0.3">100</text>
<text x="382.80" y="506.77" font-size="8.4" font-weight="bold" font-style="normal" text-anchor="end" fill="#000" stroke="#000" stroke-width="0.3">120</text>
<line x1="405.70" y1="547.43" x2="405.70" y2="551.41" stroke="#2a2a2a" stroke-width="0.9"/>
<line x1="403.80" y1="547.43" x2="407.60" y2="547.43" stroke="#2a2a2a" stroke-width="0.9"/>
<rect x="399.50" y="551.41" width="12.40" height="47.39" fill="#000" stroke="none" stroke-width="0"/>
<rect x="412.20" y="570.43" width="11.80" height="28.37" fill="#fff"/>
<path d="M412.20 571.93L413.70 570.43M412.20 574.93L416.70 570.43M412.20 577.93L419.70 570.43M412.20 580.93L422.70 570.43M412.20 583.93L424.00 572.13M412.20 586.93L424.00 575.13M412.20 589.93L424.00 578.13M412.20 592.93L424.00 581.13M412.20 595.93L424.00 584.13M412.33 598.80L424.00 587.13M415.33 598.80L424.00 590.13M418.33 598.80L424.00 593.13M421.33 598.80L424.00 596.13" stroke="#1a1a1a" stroke-width="0.78" fill="none"/>
<rect x="412.20" y="570.43" width="11.80" height="28.37" fill="none" stroke="#333" stroke-width="0.6"/>
<line x1="418.10" y1="566.14" x2="418.10" y2="574.11" stroke="#2a2a2a" stroke-width="0.9"/>
<line x1="416.20" y1="566.14" x2="420.00" y2="566.14" stroke="#2a2a2a" stroke-width="0.9"/>
<line x1="416.20" y1="574.11" x2="420.00" y2="574.11" stroke="#2a2a2a" stroke-width="0.9"/>
<line x1="448.45" y1="527.91" x2="448.45" y2="536.67" stroke="#2a2a2a" stroke-width="0.9"/>
<line x1="446.55" y1="527.91" x2="450.35" y2="527.91" stroke="#2a2a2a" stroke-width="0.9"/>
<rect x="442.25" y="536.67" width="12.40" height="62.13" fill="#000" stroke="none" stroke-width="0"/>
<rect x="454.95" y="535.38" width="11.80" height="63.42" fill="#fff"/>
<path d="M454.95 536.88L456.45 535.38M454.95 539.88L459.45 535.38M454.95 542.88L462.45 535.38M454.95 545.88L465.45 535.38M454.95 548.88L466.75 537.08M454.95 551.88L466.75 540.08M454.95 554.88L466.75 543.08M454.95 557.88L466.75 546.08M454.95 560.88L466.75 549.08M454.95 563.88L466.75 552.08M454.95 566.88L466.75 555.08M454.95 569.88L466.75 558.08M454.95 572.88L466.75 561.08M454.95 575.88L466.75 564.08M454.95 578.88L466.75 567.08M454.95 581.88L466.75 570.08M454.95 584.88L466.75 573.08M454.95 587.88L466.75 576.08M454.95 590.88L466.75 579.08M454.95 593.88L466.75 582.08M454.95 596.88L466.75 585.08M456.03 598.80L466.75 588.08M459.03 598.80L466.75 591.08M462.03 598.80L466.75 594.08M465.03 598.80L466.75 597.08" stroke="#1a1a1a" stroke-width="0.78" fill="none"/>
<rect x="454.95" y="535.38" width="11.80" height="63.42" fill="none" stroke="#333" stroke-width="0.6"/>
<line x1="460.85" y1="527.11" x2="460.85" y2="543.04" stroke="#2a2a2a" stroke-width="0.9"/>
<line x1="458.95" y1="527.11" x2="462.75" y2="527.11" stroke="#2a2a2a" stroke-width="0.9"/>
<line x1="458.95" y1="543.04" x2="462.75" y2="543.04" stroke="#2a2a2a" stroke-width="0.9"/>
<line x1="491.20" y1="510.79" x2="491.20" y2="512.38" stroke="#2a2a2a" stroke-width="0.9"/>
<line x1="489.30" y1="510.79" x2="493.10" y2="510.79" stroke="#2a2a2a" stroke-width="0.9"/>
<rect x="485.00" y="512.38" width="12.40" height="86.42" fill="#000" stroke="none" stroke-width="0"/>
<rect x="497.70" y="511.48" width="11.80" height="87.31" fill="#fff"/>
<path d="M497.70 512.98L499.20 511.48M497.70 515.98L502.20 511.48M497.70 518.98L505.20 511.48M497.70 521.98L508.20 511.48M497.70 524.98L509.50 513.18M497.70 527.98L509.50 516.18M497.70 530.98L509.50 519.18M497.70 533.98L509.50 522.18M497.70 536.98L509.50 525.18M497.70 539.98L509.50 528.18M497.70 542.98L509.50 531.18M497.70 545.98L509.50 534.18M497.70 548.98L509.50 537.18M497.70 551.98L509.50 540.18M497.70 554.98L509.50 543.18M497.70 557.98L509.50 546.18M497.70 560.98L509.50 549.18M497.70 563.98L509.50 552.18M497.70 566.98L509.50 555.18M497.70 569.98L509.50 558.18M497.70 572.98L509.50 561.18M497.70 575.98L509.50 564.18M497.70 578.98L509.50 567.18M497.70 581.98L509.50 570.18M497.70 584.98L509.50 573.18M497.70 587.98L509.50 576.18M497.70 590.98L509.50 579.18M497.70 593.98L509.50 582.18M497.70 596.98L509.50 585.18M498.88 598.80L509.50 588.18M501.88 598.80L509.50 591.18M504.88 598.80L509.50 594.18M507.88 598.80L509.50 597.18" stroke="#1a1a1a" stroke-width="0.78" fill="none"/>
<rect x="497.70" y="511.48" width="11.80" height="87.31" fill="none" stroke="#333" stroke-width="0.6"/>
<line x1="503.60" y1="501.63" x2="503.60" y2="520.74" stroke="#2a2a2a" stroke-width="0.9"/>
<line x1="501.70" y1="501.63" x2="505.50" y2="501.63" stroke="#2a2a2a" stroke-width="0.9"/>
<line x1="501.70" y1="520.74" x2="505.50" y2="520.74" stroke="#2a2a2a" stroke-width="0.9"/>
<line x1="391.50" y1="519.90" x2="511.50" y2="519.90" stroke="#111" stroke-width="1.3" stroke-dasharray="3.4 1.8"/>
<text x="405.40" y="551.30" font-size="14.5" font-weight="bold" font-style="normal" text-anchor="middle" fill="#000" stroke="#000" stroke-width="0.3">*</text>
<text x="418.30" y="570.40" font-size="14.5" font-weight="bold" font-style="normal" text-anchor="middle" fill="#000" stroke="#000" stroke-width="0.3">*</text>
<text x="447.40" y="530.90" font-size="14.5" font-weight="bold" font-style="normal" text-anchor="middle" fill="#000" stroke="#000" stroke-width="0.3">*</text>
<text x="460.10" y="530.90" font-size="14.5" font-weight="bold" font-style="normal" text-anchor="middle" fill="#000" stroke="#000" stroke-width="0.3">*</text>
<text x="371.80" y="496.60" font-size="17.3" font-weight="bold" font-style="normal" text-anchor="start" fill="#000" stroke="#000" stroke-width="0.3">L</text>
<text x="417.40" y="603.60" font-size="11.6" font-weight="bold" font-style="normal" text-anchor="end" fill="#000" stroke="#000" stroke-width="0.3" transform="rotate(-90 417.40 603.60)" textLength="91.00" lengthAdjust="spacingAndGlyphs">50µM 4F-GalNAc</text>
<text x="457.80" y="603.60" font-size="11.6" font-weight="bold" font-style="normal" text-anchor="end" fill="#000" stroke="#000" stroke-width="0.3" transform="rotate(-90 457.80 603.60)" textLength="91.00" lengthAdjust="spacingAndGlyphs">50µM 4F-GlcNAc</text>
<text x="503.20" y="603.60" font-size="11.6" font-weight="bold" font-style="normal" text-anchor="end" fill="#000" stroke="#000" stroke-width="0.3" transform="rotate(-90 503.20 603.60)" textLength="75.40" lengthAdjust="spacingAndGlyphs">50µM GalNAc</text>
</svg>
</body></html>
